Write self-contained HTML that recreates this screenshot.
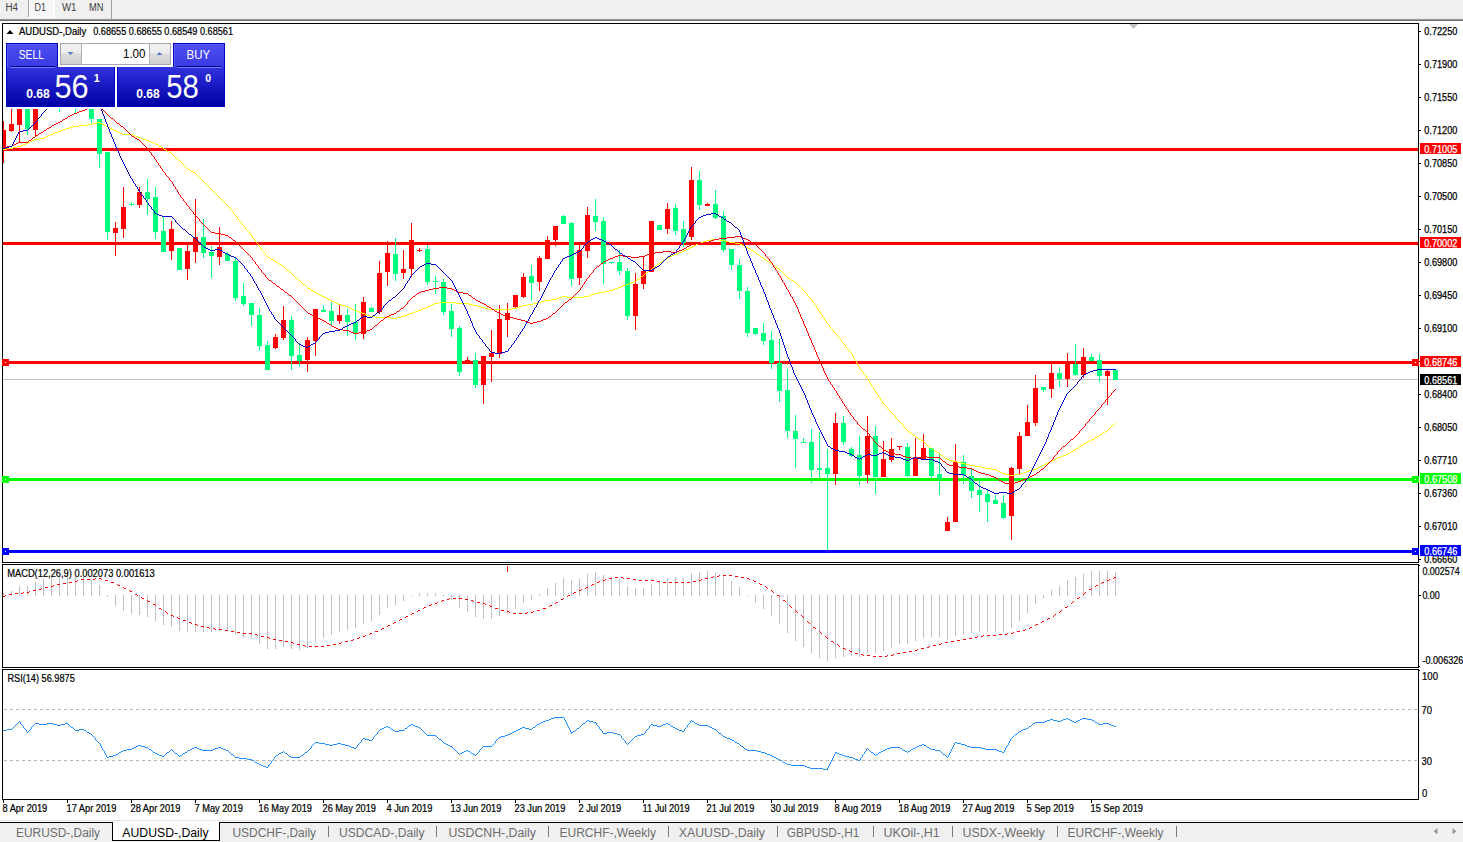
<!DOCTYPE html>
<html><head><meta charset="utf-8"><title>AUDUSD Daily</title>
<style>html,body{margin:0;padding:0;background:#fff;width:1463px;height:842px;overflow:hidden}svg{display:block}text{font-family:"Liberation Sans",sans-serif}</style>
</head><body>
<svg width="1463" height="842" viewBox="0 0 1463 842" font-family="Liberation Sans, sans-serif"><rect x="0" y="0" width="1463" height="19" fill="#f0f0f0"/>
<rect x="0" y="18" width="1463" height="1" fill="#e6e6e6"/>
<rect x="0" y="19" width="1463" height="1" fill="#9a9a9a"/>
<rect x="0" y="20" width="1463" height="1" fill="#6e6e6e"/>
<defs><pattern id="chk" x="0" y="0" width="2" height="2" patternUnits="userSpaceOnUse"><rect width="2" height="2" fill="#f0f0f0"/><rect width="1" height="1" fill="#ffffff"/><rect x="1" y="1" width="1" height="1" fill="#ffffff"/></pattern></defs>
<rect x="29" y="0" width="25" height="17" fill="url(#chk)"/>
<rect x="54" y="0" width="1" height="18" fill="#ffffff"/>
<rect x="28" y="17" width="27" height="1" fill="#ffffff"/>
<rect x="28" y="0" width="1" height="17" fill="#a0a0a0"/>
<rect x="111" y="0" width="1" height="19" fill="#a0a0a0"/>
<text x="5.5" y="11" font-size="10" fill="#404040" textLength="12.5" lengthAdjust="spacingAndGlyphs" >H4</text>
<text x="34.5" y="11" font-size="10" fill="#404040" textLength="11.5" lengthAdjust="spacingAndGlyphs" >D1</text>
<text x="62" y="11" font-size="10" fill="#404040" textLength="14.5" lengthAdjust="spacingAndGlyphs" >W1</text>
<text x="89" y="11" font-size="10" fill="#404040" textLength="14.5" lengthAdjust="spacingAndGlyphs" >MN</text>
<defs><clipPath id="cm"><rect x="3" y="24" width="1415" height="538"/></clipPath><clipPath id="cmacd"><rect x="3" y="565" width="1415" height="102"/></clipPath><clipPath id="crsi"><rect x="3" y="670" width="1415" height="129"/></clipPath></defs>
<rect x="2" y="23" width="1417" height="1" fill="#000"/>
<rect x="2" y="562" width="1417" height="1" fill="#000"/>
<rect x="2" y="23" width="1" height="540" fill="#000"/>
<rect x="1418" y="23" width="1" height="540" fill="#000"/>
<rect x="2" y="564" width="1417" height="1" fill="#000"/>
<rect x="2" y="667" width="1417" height="1" fill="#000"/>
<rect x="2" y="564" width="1" height="104" fill="#000"/>
<rect x="1418" y="564" width="1" height="104" fill="#000"/>
<rect x="2" y="669" width="1417" height="1" fill="#000"/>
<rect x="2" y="799" width="1417" height="1" fill="#000"/>
<rect x="2" y="669" width="1" height="131" fill="#000"/>
<rect x="1418" y="669" width="1" height="131" fill="#000"/>
<g clip-path="url(#cm)" shape-rendering="crispEdges">
<rect x="3" y="148" width="1415" height="3" fill="#ff0000"/>
<rect x="3" y="242" width="1415" height="3" fill="#ff0000"/>
<rect x="3" y="361" width="1415" height="3" fill="#ff0000"/>
<rect x="3" y="478" width="1415" height="3" fill="#00ff00"/>
<rect x="3" y="550" width="1415" height="3" fill="#0000ff"/>
<rect x="3" y="379" width="1415" height="1" fill="#c0c0c0"/>
<rect x="3" y="121" width="1" height="42" fill="#ff0000"/>
<rect x="1" y="130" width="5" height="21" fill="#ff0000"/>
<rect x="11" y="100" width="1" height="32" fill="#ff0000"/>
<rect x="9" y="124" width="5" height="7" fill="#ff0000"/>
<rect x="19" y="100" width="1" height="42" fill="#ff0000"/>
<rect x="17" y="100" width="5" height="25" fill="#ff0000"/>
<rect x="27" y="100" width="1" height="35" fill="#00ff7f"/>
<rect x="25" y="100" width="5" height="29" fill="#00ff7f"/>
<rect x="35" y="100" width="1" height="36" fill="#ff0000"/>
<rect x="33" y="100" width="5" height="30" fill="#ff0000"/>
<rect x="43" y="90" width="1" height="14" fill="#00ff7f"/>
<rect x="41" y="95" width="5" height="5" fill="#00ff7f"/>
<rect x="51" y="90" width="1" height="14" fill="#ff0000"/>
<rect x="49" y="92" width="5" height="8" fill="#ff0000"/>
<rect x="59" y="95" width="1" height="17" fill="#00ff7f"/>
<rect x="57" y="100" width="5" height="5" fill="#00ff7f"/>
<rect x="67" y="95" width="1" height="11" fill="#ff0000"/>
<rect x="65" y="98" width="5" height="6" fill="#ff0000"/>
<rect x="75" y="95" width="1" height="19" fill="#00ff7f"/>
<rect x="73" y="100" width="5" height="6" fill="#00ff7f"/>
<rect x="83" y="90" width="1" height="15" fill="#ff0000"/>
<rect x="81" y="95" width="5" height="5" fill="#ff0000"/>
<rect x="91" y="95" width="1" height="28" fill="#00ff7f"/>
<rect x="89" y="100" width="5" height="19" fill="#00ff7f"/>
<rect x="99" y="119" width="1" height="49" fill="#00ff7f"/>
<rect x="97" y="119" width="5" height="35" fill="#00ff7f"/>
<rect x="107" y="152" width="1" height="88" fill="#00ff7f"/>
<rect x="105" y="152" width="5" height="80" fill="#00ff7f"/>
<rect x="115" y="222" width="1" height="34" fill="#ff0000"/>
<rect x="113" y="228" width="5" height="5" fill="#ff0000"/>
<rect x="123" y="187" width="1" height="51" fill="#ff0000"/>
<rect x="121" y="207" width="5" height="22" fill="#ff0000"/>
<rect x="131" y="202" width="1" height="4" fill="#00ff7f"/>
<rect x="129" y="204" width="5" height="1" fill="#00ff7f"/>
<rect x="139" y="187" width="1" height="21" fill="#ff0000"/>
<rect x="137" y="192" width="5" height="13" fill="#ff0000"/>
<rect x="147" y="179" width="1" height="36" fill="#00ff7f"/>
<rect x="145" y="192" width="5" height="7" fill="#00ff7f"/>
<rect x="155" y="187" width="1" height="52" fill="#00ff7f"/>
<rect x="153" y="197" width="5" height="35" fill="#00ff7f"/>
<rect x="163" y="216" width="1" height="36" fill="#00ff7f"/>
<rect x="161" y="231" width="5" height="21" fill="#00ff7f"/>
<rect x="171" y="221" width="1" height="39" fill="#ff0000"/>
<rect x="169" y="229" width="5" height="22" fill="#ff0000"/>
<rect x="179" y="248" width="1" height="22" fill="#00ff7f"/>
<rect x="177" y="248" width="5" height="22" fill="#00ff7f"/>
<rect x="187" y="245" width="1" height="35" fill="#ff0000"/>
<rect x="185" y="251" width="5" height="18" fill="#ff0000"/>
<rect x="195" y="199" width="1" height="64" fill="#ff0000"/>
<rect x="193" y="237" width="5" height="15" fill="#ff0000"/>
<rect x="203" y="219" width="1" height="39" fill="#00ff7f"/>
<rect x="201" y="237" width="5" height="16" fill="#00ff7f"/>
<rect x="211" y="246" width="1" height="32" fill="#00ff7f"/>
<rect x="209" y="252" width="5" height="4" fill="#00ff7f"/>
<rect x="219" y="227" width="1" height="38" fill="#ff0000"/>
<rect x="217" y="247" width="5" height="10" fill="#ff0000"/>
<rect x="227" y="252" width="1" height="9" fill="#00ff7f"/>
<rect x="225" y="254" width="5" height="7" fill="#00ff7f"/>
<rect x="235" y="258" width="1" height="43" fill="#00ff7f"/>
<rect x="233" y="261" width="5" height="37" fill="#00ff7f"/>
<rect x="243" y="283" width="1" height="23" fill="#00ff7f"/>
<rect x="241" y="296" width="5" height="8" fill="#00ff7f"/>
<rect x="251" y="303" width="1" height="23" fill="#00ff7f"/>
<rect x="249" y="303" width="5" height="12" fill="#00ff7f"/>
<rect x="259" y="308" width="1" height="43" fill="#00ff7f"/>
<rect x="257" y="315" width="5" height="31" fill="#00ff7f"/>
<rect x="267" y="341" width="1" height="29" fill="#00ff7f"/>
<rect x="265" y="345" width="5" height="25" fill="#00ff7f"/>
<rect x="275" y="334" width="1" height="15" fill="#ff0000"/>
<rect x="273" y="337" width="5" height="11" fill="#ff0000"/>
<rect x="283" y="306" width="1" height="34" fill="#ff0000"/>
<rect x="281" y="320" width="5" height="18" fill="#ff0000"/>
<rect x="291" y="316" width="1" height="54" fill="#00ff7f"/>
<rect x="289" y="320" width="5" height="36" fill="#00ff7f"/>
<rect x="299" y="343" width="1" height="24" fill="#00ff7f"/>
<rect x="297" y="355" width="5" height="6" fill="#00ff7f"/>
<rect x="307" y="337" width="1" height="35" fill="#ff0000"/>
<rect x="305" y="340" width="5" height="20" fill="#ff0000"/>
<rect x="315" y="309" width="1" height="47" fill="#ff0000"/>
<rect x="313" y="309" width="5" height="32" fill="#ff0000"/>
<rect x="323" y="305" width="1" height="7" fill="#00ff7f"/>
<rect x="321" y="310" width="5" height="2" fill="#00ff7f"/>
<rect x="331" y="302" width="1" height="24" fill="#00ff7f"/>
<rect x="329" y="311" width="5" height="10" fill="#00ff7f"/>
<rect x="339" y="305" width="1" height="19" fill="#ff0000"/>
<rect x="337" y="315" width="5" height="6" fill="#ff0000"/>
<rect x="347" y="309" width="1" height="27" fill="#00ff7f"/>
<rect x="345" y="315" width="5" height="7" fill="#00ff7f"/>
<rect x="355" y="304" width="1" height="36" fill="#00ff7f"/>
<rect x="353" y="322" width="5" height="12" fill="#00ff7f"/>
<rect x="363" y="297" width="1" height="42" fill="#ff0000"/>
<rect x="361" y="302" width="5" height="32" fill="#ff0000"/>
<rect x="371" y="307" width="1" height="5" fill="#00ff7f"/>
<rect x="369" y="308" width="5" height="4" fill="#00ff7f"/>
<rect x="379" y="261" width="1" height="53" fill="#ff0000"/>
<rect x="377" y="273" width="5" height="39" fill="#ff0000"/>
<rect x="387" y="241" width="1" height="45" fill="#ff0000"/>
<rect x="385" y="253" width="5" height="19" fill="#ff0000"/>
<rect x="395" y="238" width="1" height="43" fill="#00ff7f"/>
<rect x="393" y="254" width="5" height="20" fill="#00ff7f"/>
<rect x="403" y="250" width="1" height="29" fill="#ff0000"/>
<rect x="401" y="269" width="5" height="4" fill="#ff0000"/>
<rect x="411" y="223" width="1" height="54" fill="#ff0000"/>
<rect x="409" y="240" width="5" height="29" fill="#ff0000"/>
<rect x="419" y="248" width="1" height="4" fill="#ff0000"/>
<rect x="417" y="250" width="5" height="1" fill="#ff0000"/>
<rect x="427" y="245" width="1" height="40" fill="#00ff7f"/>
<rect x="425" y="249" width="5" height="33" fill="#00ff7f"/>
<rect x="435" y="276" width="1" height="18" fill="#00ff7f"/>
<rect x="433" y="281" width="5" height="1" fill="#00ff7f"/>
<rect x="443" y="279" width="1" height="36" fill="#00ff7f"/>
<rect x="441" y="282" width="5" height="30" fill="#00ff7f"/>
<rect x="451" y="304" width="1" height="33" fill="#00ff7f"/>
<rect x="449" y="311" width="5" height="18" fill="#00ff7f"/>
<rect x="459" y="326" width="1" height="50" fill="#00ff7f"/>
<rect x="457" y="328" width="5" height="44" fill="#00ff7f"/>
<rect x="467" y="357" width="1" height="4" fill="#ff0000"/>
<rect x="465" y="360" width="5" height="1" fill="#ff0000"/>
<rect x="475" y="353" width="1" height="35" fill="#00ff7f"/>
<rect x="473" y="360" width="5" height="25" fill="#00ff7f"/>
<rect x="483" y="356" width="1" height="48" fill="#ff0000"/>
<rect x="481" y="356" width="5" height="29" fill="#ff0000"/>
<rect x="491" y="330" width="1" height="52" fill="#ff0000"/>
<rect x="489" y="353" width="5" height="4" fill="#ff0000"/>
<rect x="499" y="305" width="1" height="53" fill="#ff0000"/>
<rect x="497" y="319" width="5" height="35" fill="#ff0000"/>
<rect x="507" y="303" width="1" height="34" fill="#ff0000"/>
<rect x="505" y="313" width="5" height="7" fill="#ff0000"/>
<rect x="515" y="295" width="1" height="13" fill="#ff0000"/>
<rect x="513" y="295" width="5" height="12" fill="#ff0000"/>
<rect x="523" y="273" width="1" height="25" fill="#ff0000"/>
<rect x="521" y="277" width="5" height="20" fill="#ff0000"/>
<rect x="531" y="265" width="1" height="36" fill="#00ff7f"/>
<rect x="529" y="276" width="5" height="7" fill="#00ff7f"/>
<rect x="539" y="256" width="1" height="35" fill="#ff0000"/>
<rect x="537" y="258" width="5" height="24" fill="#ff0000"/>
<rect x="547" y="236" width="1" height="23" fill="#ff0000"/>
<rect x="545" y="240" width="5" height="19" fill="#ff0000"/>
<rect x="555" y="226" width="1" height="20" fill="#ff0000"/>
<rect x="553" y="226" width="5" height="14" fill="#ff0000"/>
<rect x="563" y="215" width="1" height="9" fill="#00ff7f"/>
<rect x="561" y="216" width="5" height="8" fill="#00ff7f"/>
<rect x="571" y="222" width="1" height="64" fill="#00ff7f"/>
<rect x="569" y="223" width="5" height="56" fill="#00ff7f"/>
<rect x="579" y="245" width="1" height="40" fill="#ff0000"/>
<rect x="577" y="250" width="5" height="28" fill="#ff0000"/>
<rect x="587" y="207" width="1" height="51" fill="#ff0000"/>
<rect x="585" y="215" width="5" height="36" fill="#ff0000"/>
<rect x="595" y="199" width="1" height="32" fill="#00ff7f"/>
<rect x="593" y="216" width="5" height="6" fill="#00ff7f"/>
<rect x="603" y="217" width="1" height="67" fill="#00ff7f"/>
<rect x="601" y="221" width="5" height="43" fill="#00ff7f"/>
<rect x="611" y="262" width="1" height="2" fill="#00ff7f"/>
<rect x="609" y="262" width="5" height="1" fill="#00ff7f"/>
<rect x="619" y="250" width="1" height="25" fill="#00ff7f"/>
<rect x="617" y="262" width="5" height="9" fill="#00ff7f"/>
<rect x="627" y="268" width="1" height="52" fill="#00ff7f"/>
<rect x="625" y="271" width="5" height="45" fill="#00ff7f"/>
<rect x="635" y="273" width="1" height="57" fill="#ff0000"/>
<rect x="633" y="284" width="5" height="32" fill="#ff0000"/>
<rect x="643" y="256" width="1" height="33" fill="#ff0000"/>
<rect x="641" y="271" width="5" height="13" fill="#ff0000"/>
<rect x="651" y="221" width="1" height="51" fill="#ff0000"/>
<rect x="649" y="221" width="5" height="51" fill="#ff0000"/>
<rect x="659" y="225" width="1" height="5" fill="#00ff7f"/>
<rect x="657" y="225" width="5" height="5" fill="#00ff7f"/>
<rect x="667" y="203" width="1" height="31" fill="#ff0000"/>
<rect x="665" y="209" width="5" height="20" fill="#ff0000"/>
<rect x="675" y="204" width="1" height="31" fill="#00ff7f"/>
<rect x="673" y="208" width="5" height="23" fill="#00ff7f"/>
<rect x="683" y="221" width="1" height="26" fill="#00ff7f"/>
<rect x="681" y="229" width="5" height="14" fill="#00ff7f"/>
<rect x="691" y="167" width="1" height="73" fill="#ff0000"/>
<rect x="689" y="180" width="5" height="57" fill="#ff0000"/>
<rect x="699" y="171" width="1" height="39" fill="#00ff7f"/>
<rect x="697" y="180" width="5" height="25" fill="#00ff7f"/>
<rect x="707" y="203" width="1" height="3" fill="#ff0000"/>
<rect x="705" y="204" width="5" height="2" fill="#ff0000"/>
<rect x="715" y="190" width="1" height="29" fill="#00ff7f"/>
<rect x="713" y="204" width="5" height="14" fill="#00ff7f"/>
<rect x="723" y="211" width="1" height="41" fill="#00ff7f"/>
<rect x="721" y="216" width="5" height="34" fill="#00ff7f"/>
<rect x="731" y="249" width="1" height="21" fill="#00ff7f"/>
<rect x="729" y="249" width="5" height="16" fill="#00ff7f"/>
<rect x="739" y="259" width="1" height="40" fill="#00ff7f"/>
<rect x="737" y="265" width="5" height="26" fill="#00ff7f"/>
<rect x="747" y="287" width="1" height="50" fill="#00ff7f"/>
<rect x="745" y="291" width="5" height="42" fill="#00ff7f"/>
<rect x="755" y="328" width="1" height="7" fill="#00ff7f"/>
<rect x="753" y="328" width="5" height="6" fill="#00ff7f"/>
<rect x="763" y="323" width="1" height="22" fill="#00ff7f"/>
<rect x="761" y="333" width="5" height="8" fill="#00ff7f"/>
<rect x="771" y="331" width="1" height="38" fill="#00ff7f"/>
<rect x="769" y="340" width="5" height="23" fill="#00ff7f"/>
<rect x="779" y="339" width="1" height="63" fill="#00ff7f"/>
<rect x="777" y="363" width="5" height="28" fill="#00ff7f"/>
<rect x="787" y="369" width="1" height="69" fill="#00ff7f"/>
<rect x="785" y="390" width="5" height="41" fill="#00ff7f"/>
<rect x="795" y="415" width="1" height="53" fill="#00ff7f"/>
<rect x="793" y="431" width="5" height="8" fill="#00ff7f"/>
<rect x="803" y="438" width="1" height="4" fill="#00ff7f"/>
<rect x="801" y="442" width="5" height="1" fill="#00ff7f"/>
<rect x="811" y="429" width="1" height="54" fill="#00ff7f"/>
<rect x="809" y="442" width="5" height="28" fill="#00ff7f"/>
<rect x="819" y="432" width="1" height="46" fill="#00ff7f"/>
<rect x="817" y="468" width="5" height="2" fill="#00ff7f"/>
<rect x="827" y="449" width="1" height="101" fill="#00ff7f"/>
<rect x="825" y="468" width="5" height="6" fill="#00ff7f"/>
<rect x="835" y="413" width="1" height="72" fill="#ff0000"/>
<rect x="833" y="423" width="5" height="51" fill="#ff0000"/>
<rect x="843" y="416" width="1" height="29" fill="#00ff7f"/>
<rect x="841" y="423" width="5" height="19" fill="#00ff7f"/>
<rect x="851" y="447" width="1" height="10" fill="#00ff7f"/>
<rect x="849" y="449" width="5" height="7" fill="#00ff7f"/>
<rect x="859" y="436" width="1" height="49" fill="#00ff7f"/>
<rect x="857" y="455" width="5" height="21" fill="#00ff7f"/>
<rect x="867" y="416" width="1" height="67" fill="#ff0000"/>
<rect x="865" y="436" width="5" height="39" fill="#ff0000"/>
<rect x="875" y="426" width="1" height="68" fill="#00ff7f"/>
<rect x="873" y="436" width="5" height="41" fill="#00ff7f"/>
<rect x="883" y="441" width="1" height="36" fill="#ff0000"/>
<rect x="881" y="459" width="5" height="18" fill="#ff0000"/>
<rect x="891" y="438" width="1" height="24" fill="#ff0000"/>
<rect x="889" y="449" width="5" height="11" fill="#ff0000"/>
<rect x="899" y="446" width="1" height="4" fill="#ff0000"/>
<rect x="897" y="446" width="5" height="1" fill="#ff0000"/>
<rect x="907" y="443" width="1" height="34" fill="#00ff7f"/>
<rect x="905" y="447" width="5" height="29" fill="#00ff7f"/>
<rect x="915" y="438" width="1" height="38" fill="#ff0000"/>
<rect x="913" y="457" width="5" height="19" fill="#ff0000"/>
<rect x="923" y="434" width="1" height="26" fill="#ff0000"/>
<rect x="921" y="448" width="5" height="11" fill="#ff0000"/>
<rect x="931" y="448" width="1" height="30" fill="#00ff7f"/>
<rect x="929" y="448" width="5" height="28" fill="#00ff7f"/>
<rect x="939" y="454" width="1" height="41" fill="#00ff7f"/>
<rect x="937" y="474" width="5" height="5" fill="#00ff7f"/>
<rect x="947" y="517" width="1" height="14" fill="#ff0000"/>
<rect x="945" y="522" width="5" height="9" fill="#ff0000"/>
<rect x="955" y="444" width="1" height="78" fill="#ff0000"/>
<rect x="953" y="462" width="5" height="60" fill="#ff0000"/>
<rect x="963" y="455" width="1" height="29" fill="#00ff7f"/>
<rect x="961" y="462" width="5" height="13" fill="#00ff7f"/>
<rect x="971" y="469" width="1" height="29" fill="#00ff7f"/>
<rect x="969" y="476" width="5" height="15" fill="#00ff7f"/>
<rect x="979" y="478" width="1" height="34" fill="#00ff7f"/>
<rect x="977" y="490" width="5" height="5" fill="#00ff7f"/>
<rect x="987" y="489" width="1" height="33" fill="#00ff7f"/>
<rect x="985" y="494" width="5" height="8" fill="#00ff7f"/>
<rect x="995" y="495" width="1" height="9" fill="#00ff7f"/>
<rect x="993" y="500" width="5" height="4" fill="#00ff7f"/>
<rect x="1003" y="495" width="1" height="24" fill="#00ff7f"/>
<rect x="1001" y="503" width="5" height="15" fill="#00ff7f"/>
<rect x="1011" y="467" width="1" height="73" fill="#ff0000"/>
<rect x="1009" y="468" width="5" height="48" fill="#ff0000"/>
<rect x="1019" y="432" width="1" height="42" fill="#ff0000"/>
<rect x="1017" y="436" width="5" height="33" fill="#ff0000"/>
<rect x="1027" y="405" width="1" height="31" fill="#ff0000"/>
<rect x="1025" y="422" width="5" height="14" fill="#ff0000"/>
<rect x="1035" y="375" width="1" height="51" fill="#ff0000"/>
<rect x="1033" y="388" width="5" height="35" fill="#ff0000"/>
<rect x="1043" y="387" width="1" height="5" fill="#00ff7f"/>
<rect x="1041" y="387" width="5" height="3" fill="#00ff7f"/>
<rect x="1051" y="364" width="1" height="34" fill="#ff0000"/>
<rect x="1049" y="373" width="5" height="16" fill="#ff0000"/>
<rect x="1059" y="367" width="1" height="20" fill="#00ff7f"/>
<rect x="1057" y="373" width="5" height="6" fill="#00ff7f"/>
<rect x="1067" y="353" width="1" height="34" fill="#ff0000"/>
<rect x="1065" y="364" width="5" height="15" fill="#ff0000"/>
<rect x="1075" y="344" width="1" height="32" fill="#00ff7f"/>
<rect x="1073" y="364" width="5" height="11" fill="#00ff7f"/>
<rect x="1083" y="348" width="1" height="30" fill="#ff0000"/>
<rect x="1081" y="357" width="5" height="18" fill="#ff0000"/>
<rect x="1091" y="354" width="1" height="7" fill="#00ff7f"/>
<rect x="1089" y="357" width="5" height="4" fill="#00ff7f"/>
<rect x="1099" y="354" width="1" height="28" fill="#00ff7f"/>
<rect x="1097" y="360" width="5" height="16" fill="#00ff7f"/>
<rect x="1107" y="369" width="1" height="36" fill="#ff0000"/>
<rect x="1105" y="371" width="5" height="5" fill="#ff0000"/>
<rect x="1115" y="370" width="1" height="10" fill="#00ff7f"/>
<rect x="1113" y="370" width="5" height="10" fill="#00ff7f"/>
<path d="M97,122h3v1h-3zM93,123h4v1h-4zM100,123h2v1h-2zM87,124h6v1h-6zM102,124h2v1h-2zM79,125h8v1h-8zM104,125h2v1h-2zM73,126h6v1h-6zM106,126h2v1h-2zM69,127h4v1h-4zM108,127h2v1h-2zM66,128h3v1h-3zM110,128h2v1h-2zM63,129h3v1h-3zM112,129h2v1h-2zM61,130h2v1h-2zM114,130h2v1h-2zM58,131h3v1h-3zM116,131h2v1h-2zM55,132h3v1h-3zM118,132h2v1h-2zM53,133h2v1h-2zM120,133h2v1h-2zM50,134h3v1h-3zM122,134h11v1h-11zM48,135h2v1h-2zM133,135h2v1h-2zM46,136h2v1h-2zM135,136h3v1h-3zM44,137h2v1h-2zM138,137h3v1h-3zM39,138h5v1h-5zM141,138h2v1h-2zM34,139h5v1h-5zM143,139h3v1h-3zM32,140h2v1h-2zM146,140h3v1h-3zM30,141h2v1h-2zM149,141h2v1h-2zM28,142h2v1h-2zM151,142h3v1h-3zM26,143h2v1h-2zM154,143h2v1h-2zM23,144h3v1h-3zM156,144h2v1h-2zM21,145h2v1h-2zM158,145h1v1h-1zM17,146h4v1h-4zM159,146h2v1h-2zM13,147h4v1h-4zM161,147h2v1h-2zM7,148h6v1h-6zM163,148h1v1h-1zM3,149h4v1h-4zM164,149h2v1h-2zM166,150h1v1h-1zM167,151h2v1h-2zM169,152h2v1h-2zM171,153h1v1h-1zM172,154h1v1h-1zM173,155h1v1h-1zM174,156h1v1h-1zM175,157h2v1h-2zM177,158h1v1h-1zM178,159h1v1h-1zM179,160h1v1h-1zM180,161h1v1h-1zM181,162h1v1h-1zM182,163h1v1h-1zM183,164h1v1h-1zM184,165h1v1h-1zM185,166h1v1h-1zM186,167h1v1h-1zM187,168h1v1h-1zM188,169h2v1h-2zM190,170h1v1h-1zM191,171h2v1h-2zM193,172h2v1h-2zM195,173h1v1h-1zM196,174h1v1h-1zM197,175h1v1h-1zM198,176h1v1h-1zM199,177h1v1h-1zM200,178h1v1h-1zM201,179h1v1h-1zM202,180h1v1h-1zM203,181h1v1h-1zM204,182h1v1h-1zM205,183h1v1h-1zM206,184h1v1h-1zM207,185h1v1h-1zM208,186h1v1h-1zM209,187h1v1h-1zM210,188h1v1h-1zM211,189h1v1h-1zM212,190h1v1h-1zM213,191h1v1h-1zM214,192h1v1h-1zM215,193h1v1h-1zM216,194h1v1h-1zM217,195h1v1h-1zM218,196h1v1h-1zM219,197h1v1h-1zM220,198h1v1h-1zM221,199h1v1h-1zM222,200h1v1h-1zM223,201h1v1h-1zM224,202h1v1h-1zM225,203h1v1h-1zM226,204h1v1h-1zM227,205h1v1h-1zM228,206h1v1h-1zM229,207h1v1h-1zM229,208h1v1h-1zM230,209h1v1h-1zM231,210h1v1h-1zM232,211h1v1h-1zM233,212h1v1h-1zM233,213h1v1h-1zM234,214h1v1h-1zM235,215h1v1h-1zM236,216h1v1h-1zM237,217h1v1h-1zM237,218h1v1h-1zM238,219h1v1h-1zM239,220h1v1h-1zM240,221h1v1h-1zM241,222h1v1h-1zM241,223h1v1h-1zM242,224h1v1h-1zM243,225h1v1h-1zM244,226h1v1h-1zM245,227h1v1h-1zM245,228h1v1h-1zM246,229h1v1h-1zM247,230h1v1h-1zM248,231h1v1h-1zM249,232h1v1h-1zM249,233h1v1h-1zM250,234h1v1h-1zM251,235h1v1h-1zM252,236h1v1h-1zM252,237h1v1h-1zM253,238h1v1h-1zM254,239h1v1h-1zM711,239h8v1h-8zM255,240h1v1h-1zM706,240h5v1h-5zM719,240h6v1h-6zM255,241h1v1h-1zM703,241h3v1h-3zM725,241h4v1h-4zM256,242h1v1h-1zM701,242h2v1h-2zM729,242h6v1h-6zM257,243h1v1h-1zM698,243h3v1h-3zM735,243h5v1h-5zM258,244h1v1h-1zM696,244h2v1h-2zM740,244h2v1h-2zM258,245h1v1h-1zM694,245h2v1h-2zM742,245h2v1h-2zM259,246h1v1h-1zM692,246h2v1h-2zM744,246h2v1h-2zM260,247h1v1h-1zM690,247h2v1h-2zM746,247h2v1h-2zM261,248h1v1h-1zM688,248h2v1h-2zM748,248h2v1h-2zM261,249h1v1h-1zM686,249h2v1h-2zM750,249h1v1h-1zM262,250h1v1h-1zM684,250h2v1h-2zM751,250h2v1h-2zM263,251h1v1h-1zM682,251h2v1h-2zM753,251h2v1h-2zM264,252h1v1h-1zM679,252h3v1h-3zM755,252h1v1h-1zM265,253h1v1h-1zM677,253h2v1h-2zM756,253h1v1h-1zM265,254h1v1h-1zM674,254h3v1h-3zM757,254h2v1h-2zM266,255h1v1h-1zM672,255h2v1h-2zM759,255h1v1h-1zM267,256h1v1h-1zM670,256h2v1h-2zM760,256h1v1h-1zM268,257h2v1h-2zM668,257h2v1h-2zM761,257h2v1h-2zM270,258h1v1h-1zM667,258h1v1h-1zM763,258h1v1h-1zM271,259h2v1h-2zM665,259h2v1h-2zM764,259h2v1h-2zM273,260h2v1h-2zM663,260h2v1h-2zM766,260h1v1h-1zM275,261h1v1h-1zM662,261h1v1h-1zM767,261h2v1h-2zM276,262h2v1h-2zM660,262h2v1h-2zM769,262h2v1h-2zM278,263h1v1h-1zM659,263h1v1h-1zM771,263h1v1h-1zM279,264h2v1h-2zM657,264h2v1h-2zM772,264h1v1h-1zM281,265h2v1h-2zM656,265h1v1h-1zM773,265h2v1h-2zM283,266h1v1h-1zM655,266h1v1h-1zM775,266h1v1h-1zM284,267h1v1h-1zM653,267h2v1h-2zM776,267h1v1h-1zM285,268h1v1h-1zM652,268h1v1h-1zM777,268h2v1h-2zM286,269h1v1h-1zM651,269h1v1h-1zM779,269h1v1h-1zM287,270h2v1h-2zM649,270h2v1h-2zM780,270h1v1h-1zM289,271h1v1h-1zM648,271h1v1h-1zM781,271h1v1h-1zM290,272h1v1h-1zM647,272h1v1h-1zM782,272h1v1h-1zM291,273h1v1h-1zM645,273h2v1h-2zM783,273h1v1h-1zM292,274h1v1h-1zM644,274h1v1h-1zM784,274h1v1h-1zM293,275h1v1h-1zM643,275h1v1h-1zM785,275h1v1h-1zM294,276h1v1h-1zM641,276h2v1h-2zM786,276h1v1h-1zM295,277h2v1h-2zM640,277h1v1h-1zM787,277h1v1h-1zM297,278h1v1h-1zM639,278h1v1h-1zM788,278h2v1h-2zM298,279h1v1h-1zM637,279h2v1h-2zM790,279h1v1h-1zM299,280h1v1h-1zM636,280h1v1h-1zM791,280h2v1h-2zM300,281h1v1h-1zM634,281h2v1h-2zM793,281h2v1h-2zM301,282h1v1h-1zM631,282h3v1h-3zM795,282h1v1h-1zM302,283h1v1h-1zM629,283h2v1h-2zM796,283h1v1h-1zM303,284h2v1h-2zM626,284h3v1h-3zM797,284h1v1h-1zM305,285h1v1h-1zM623,285h3v1h-3zM798,285h1v1h-1zM306,286h1v1h-1zM621,286h2v1h-2zM799,286h1v1h-1zM307,287h1v1h-1zM618,287h3v1h-3zM800,287h1v1h-1zM308,288h2v1h-2zM615,288h3v1h-3zM801,288h1v1h-1zM310,289h1v1h-1zM613,289h2v1h-2zM802,289h1v1h-1zM311,290h2v1h-2zM609,290h4v1h-4zM803,290h1v1h-1zM313,291h2v1h-2zM605,291h4v1h-4zM804,291h1v1h-1zM315,292h1v1h-1zM599,292h6v1h-6zM805,292h1v1h-1zM316,293h2v1h-2zM594,293h5v1h-5zM806,293h1v1h-1zM318,294h2v1h-2zM591,294h3v1h-3zM807,294h1v1h-1zM320,295h2v1h-2zM589,295h2v1h-2zM807,295h1v1h-1zM322,296h2v1h-2zM562,296h5v1h-5zM583,296h6v1h-6zM808,296h1v1h-1zM324,297h2v1h-2zM559,297h3v1h-3zM567,297h16v1h-16zM809,297h1v1h-1zM326,298h2v1h-2zM557,298h2v1h-2zM810,298h1v1h-1zM328,299h2v1h-2zM551,299h6v1h-6zM811,299h1v1h-1zM330,300h2v1h-2zM545,300h6v1h-6zM812,300h1v1h-1zM332,301h2v1h-2zM541,301h4v1h-4zM812,301h1v1h-1zM334,302h2v1h-2zM439,302h16v1h-16zM537,302h4v1h-4zM813,302h1v1h-1zM336,303h2v1h-2zM434,303h5v1h-5zM455,303h14v1h-14zM533,303h4v1h-4zM814,303h1v1h-1zM338,304h3v1h-3zM432,304h2v1h-2zM469,304h4v1h-4zM527,304h6v1h-6zM814,304h1v1h-1zM341,305h4v1h-4zM430,305h2v1h-2zM473,305h4v1h-4zM522,305h5v1h-5zM815,305h1v1h-1zM345,306h3v1h-3zM428,306h2v1h-2zM477,306h4v1h-4zM519,306h3v1h-3zM816,306h1v1h-1zM348,307h2v1h-2zM426,307h2v1h-2zM481,307h4v1h-4zM517,307h2v1h-2zM816,307h1v1h-1zM350,308h2v1h-2zM423,308h3v1h-3zM485,308h4v1h-4zM511,308h6v1h-6zM817,308h1v1h-1zM352,309h2v1h-2zM421,309h2v1h-2zM489,309h22v1h-22zM818,309h1v1h-1zM354,310h3v1h-3zM418,310h3v1h-3zM818,310h1v1h-1zM357,311h2v1h-2zM415,311h3v1h-3zM819,311h1v1h-1zM359,312h3v1h-3zM413,312h2v1h-2zM820,312h1v1h-1zM362,313h3v1h-3zM410,313h3v1h-3zM820,313h1v1h-1zM365,314h2v1h-2zM407,314h3v1h-3zM821,314h1v1h-1zM367,315h3v1h-3zM405,315h2v1h-2zM822,315h1v1h-1zM370,316h5v1h-5zM401,316h4v1h-4zM822,316h1v1h-1zM375,317h16v1h-16zM397,317h4v1h-4zM823,317h1v1h-1zM391,318h6v1h-6zM824,318h1v1h-1zM824,319h1v1h-1zM825,320h1v1h-1zM826,321h1v1h-1zM826,322h1v1h-1zM827,323h1v1h-1zM828,324h1v1h-1zM829,325h1v1h-1zM829,326h1v1h-1zM830,327h1v1h-1zM831,328h1v1h-1zM832,329h1v1h-1zM833,330h1v1h-1zM833,331h1v1h-1zM834,332h1v1h-1zM835,333h1v1h-1zM836,334h1v1h-1zM837,335h1v1h-1zM837,336h1v1h-1zM838,337h1v1h-1zM839,338h1v1h-1zM840,339h1v1h-1zM841,340h1v1h-1zM841,341h1v1h-1zM842,342h1v1h-1zM843,343h1v1h-1zM844,344h1v1h-1zM845,345h1v1h-1zM845,346h1v1h-1zM846,347h1v1h-1zM847,348h1v1h-1zM848,349h1v1h-1zM849,350h1v1h-1zM849,351h1v1h-1zM850,352h1v1h-1zM851,353h1v1h-1zM852,354h1v1h-1zM852,355h1v1h-1zM853,356h1v1h-1zM853,357h1v1h-1zM854,358h1v1h-1zM854,359h1v1h-1zM855,360h1v1h-1zM856,361h1v1h-1zM856,362h1v1h-1zM857,363h1v1h-1zM857,364h1v1h-1zM858,365h1v1h-1zM858,366h1v1h-1zM859,367h1v1h-1zM860,368h1v1h-1zM860,369h1v1h-1zM861,370h1v1h-1zM862,371h1v1h-1zM863,372h1v1h-1zM863,373h1v1h-1zM864,374h1v1h-1zM865,375h1v1h-1zM866,376h1v1h-1zM866,377h1v1h-1zM867,378h1v1h-1zM868,379h1v1h-1zM868,380h1v1h-1zM869,381h1v1h-1zM869,382h1v1h-1zM870,383h1v1h-1zM871,384h1v1h-1zM871,385h1v1h-1zM872,386h1v1h-1zM873,387h1v1h-1zM873,388h1v1h-1zM874,389h1v1h-1zM874,390h1v1h-1zM875,391h1v1h-1zM876,392h1v1h-1zM876,393h1v1h-1zM877,394h1v1h-1zM878,395h1v1h-1zM878,396h1v1h-1zM879,397h1v1h-1zM880,398h1v1h-1zM880,399h1v1h-1zM881,400h1v1h-1zM882,401h1v1h-1zM882,402h1v1h-1zM883,403h1v1h-1zM884,404h1v1h-1zM885,405h1v1h-1zM886,406h1v1h-1zM887,407h1v1h-1zM887,408h1v1h-1zM888,409h1v1h-1zM889,410h1v1h-1zM890,411h1v1h-1zM891,412h1v1h-1zM892,413h1v1h-1zM893,414h1v1h-1zM894,415h1v1h-1zM895,416h1v1h-1zM895,417h1v1h-1zM896,418h1v1h-1zM897,419h1v1h-1zM898,420h1v1h-1zM899,421h1v1h-1zM900,422h1v1h-1zM901,423h1v1h-1zM1115,423h1v1h-1zM902,424h1v1h-1zM1114,424h1v1h-1zM903,425h1v1h-1zM1113,425h1v1h-1zM903,426h1v1h-1zM1111,426h2v1h-2zM904,427h1v1h-1zM1110,427h1v1h-1zM905,428h1v1h-1zM1109,428h1v1h-1zM906,429h1v1h-1zM1108,429h1v1h-1zM907,430h1v1h-1zM1107,430h1v1h-1zM908,431h1v1h-1zM1105,431h2v1h-2zM909,432h2v1h-2zM1103,432h2v1h-2zM911,433h1v1h-1zM1102,433h1v1h-1zM912,434h1v1h-1zM1100,434h2v1h-2zM913,435h2v1h-2zM1099,435h1v1h-1zM915,436h1v1h-1zM1097,436h2v1h-2zM916,437h2v1h-2zM1095,437h2v1h-2zM918,438h1v1h-1zM1094,438h1v1h-1zM919,439h2v1h-2zM1092,439h2v1h-2zM921,440h2v1h-2zM1090,440h2v1h-2zM923,441h1v1h-1zM1088,441h2v1h-2zM924,442h1v1h-1zM1086,442h2v1h-2zM925,443h1v1h-1zM1084,443h2v1h-2zM926,444h1v1h-1zM1083,444h1v1h-1zM927,445h2v1h-2zM1081,445h2v1h-2zM929,446h1v1h-1zM1079,446h2v1h-2zM930,447h1v1h-1zM1078,447h1v1h-1zM931,448h1v1h-1zM1076,448h2v1h-2zM932,449h2v1h-2zM1075,449h1v1h-1zM934,450h1v1h-1zM1073,450h2v1h-2zM935,451h2v1h-2zM1071,451h2v1h-2zM937,452h2v1h-2zM1070,452h1v1h-1zM939,453h1v1h-1zM1068,453h2v1h-2zM940,454h1v1h-1zM1066,454h2v1h-2zM941,455h2v1h-2zM1063,455h3v1h-3zM943,456h1v1h-1zM1061,456h2v1h-2zM944,457h1v1h-1zM1058,457h3v1h-3zM945,458h2v1h-2zM1056,458h2v1h-2zM947,459h2v1h-2zM1054,459h2v1h-2zM949,460h4v1h-4zM1052,460h2v1h-2zM953,461h4v1h-4zM1050,461h2v1h-2zM957,462h4v1h-4zM1048,462h2v1h-2zM961,463h4v1h-4zM1046,463h2v1h-2zM965,464h4v1h-4zM1044,464h2v1h-2zM969,465h6v1h-6zM1042,465h2v1h-2zM975,466h6v1h-6zM1040,466h2v1h-2zM981,467h4v1h-4zM1038,467h2v1h-2zM985,468h6v1h-6zM1036,468h2v1h-2zM991,469h5v1h-5zM1033,469h3v1h-3zM996,470h2v1h-2zM1029,470h4v1h-4zM998,471h2v1h-2zM1026,471h3v1h-3zM1000,472h2v1h-2zM1023,472h3v1h-3zM1002,473h3v1h-3zM1021,473h2v1h-2zM1005,474h4v1h-4zM1015,474h6v1h-6zM1009,475h6v1h-6z" fill="#ffff00"/>
<path d="M95,106h5v1h-5zM90,107h5v1h-5zM100,107h1v1h-1zM87,108h3v1h-3zM101,108h1v1h-1zM85,109h2v1h-2zM102,109h1v1h-1zM82,110h3v1h-3zM103,110h1v1h-1zM79,111h3v1h-3zM104,111h1v1h-1zM77,112h2v1h-2zM105,112h1v1h-1zM74,113h3v1h-3zM106,113h1v1h-1zM72,114h2v1h-2zM107,114h1v1h-1zM70,115h2v1h-2zM108,115h1v1h-1zM68,116h2v1h-2zM109,116h1v1h-1zM67,117h1v1h-1zM110,117h1v1h-1zM65,118h2v1h-2zM111,118h2v1h-2zM63,119h2v1h-2zM113,119h1v1h-1zM62,120h1v1h-1zM114,120h1v1h-1zM60,121h2v1h-2zM115,121h1v1h-1zM58,122h2v1h-2zM116,122h1v1h-1zM56,123h2v1h-2zM117,123h2v1h-2zM54,124h2v1h-2zM119,124h1v1h-1zM52,125h2v1h-2zM120,125h1v1h-1zM51,126h1v1h-1zM121,126h2v1h-2zM49,127h2v1h-2zM123,127h1v1h-1zM47,128h2v1h-2zM124,128h1v1h-1zM46,129h1v1h-1zM125,129h1v1h-1zM44,130h2v1h-2zM126,130h1v1h-1zM43,131h1v1h-1zM127,131h1v1h-1zM41,132h2v1h-2zM128,132h1v1h-1zM39,133h2v1h-2zM129,133h1v1h-1zM38,134h1v1h-1zM130,134h1v1h-1zM36,135h2v1h-2zM131,135h1v1h-1zM35,136h1v1h-1zM132,136h2v1h-2zM33,137h2v1h-2zM134,137h1v1h-1zM32,138h1v1h-1zM135,138h2v1h-2zM31,139h1v1h-1zM137,139h2v1h-2zM29,140h2v1h-2zM139,140h1v1h-1zM28,141h1v1h-1zM140,141h1v1h-1zM18,142h10v1h-10zM141,142h1v1h-1zM16,143h2v1h-2zM142,143h1v1h-1zM14,144h2v1h-2zM143,144h1v1h-1zM12,145h2v1h-2zM144,145h1v1h-1zM7,146h5v1h-5zM145,146h1v1h-1zM3,147h4v1h-4zM146,147h1v1h-1zM147,148h1v1h-1zM148,149h1v1h-1zM148,150h1v1h-1zM149,151h1v1h-1zM150,152h1v1h-1zM151,153h1v1h-1zM151,154h1v1h-1zM152,155h1v1h-1zM153,156h1v1h-1zM154,157h1v1h-1zM154,158h1v1h-1zM155,159h1v1h-1zM156,160h1v1h-1zM156,161h1v1h-1zM157,162h1v1h-1zM158,163h1v1h-1zM158,164h1v1h-1zM159,165h1v1h-1zM160,166h1v1h-1zM160,167h1v1h-1zM161,168h1v1h-1zM162,169h1v1h-1zM162,170h1v1h-1zM163,171h1v1h-1zM164,172h1v1h-1zM165,173h1v1h-1zM165,174h1v1h-1zM166,175h1v1h-1zM167,176h1v1h-1zM168,177h1v1h-1zM169,178h1v1h-1zM169,179h1v1h-1zM170,180h1v1h-1zM171,181h1v1h-1zM172,182h1v1h-1zM172,183h1v1h-1zM173,184h1v1h-1zM173,185h1v1h-1zM174,186h1v1h-1zM175,187h1v1h-1zM175,188h1v1h-1zM176,189h1v1h-1zM177,190h1v1h-1zM177,191h1v1h-1zM178,192h1v1h-1zM178,193h1v1h-1zM179,194h1v1h-1zM180,195h1v1h-1zM180,196h1v1h-1zM181,197h1v1h-1zM182,198h1v1h-1zM183,199h1v1h-1zM183,200h1v1h-1zM184,201h1v1h-1zM185,202h1v1h-1zM186,203h1v1h-1zM186,204h1v1h-1zM187,205h1v1h-1zM188,206h1v1h-1zM189,207h1v1h-1zM189,208h1v1h-1zM190,209h1v1h-1zM191,210h1v1h-1zM192,211h1v1h-1zM193,212h1v1h-1zM193,213h1v1h-1zM194,214h1v1h-1zM195,215h1v1h-1zM196,216h1v1h-1zM197,217h1v1h-1zM198,218h1v1h-1zM199,219h1v1h-1zM199,220h1v1h-1zM200,221h1v1h-1zM201,222h1v1h-1zM202,223h1v1h-1zM203,224h1v1h-1zM204,225h1v1h-1zM205,226h1v1h-1zM206,227h1v1h-1zM207,228h1v1h-1zM208,229h1v1h-1zM209,230h1v1h-1zM210,231h1v1h-1zM211,232h4v1h-4zM215,233h6v1h-6zM221,234h4v1h-4zM225,235h3v1h-3zM228,236h1v1h-1zM735,236h6v1h-6zM229,237h2v1h-2zM727,237h8v1h-8zM741,237h2v1h-2zM231,238h1v1h-1zM719,238h8v1h-8zM743,238h3v1h-3zM232,239h1v1h-1zM714,239h5v1h-5zM746,239h2v1h-2zM233,240h2v1h-2zM711,240h3v1h-3zM748,240h2v1h-2zM235,241h1v1h-1zM709,241h2v1h-2zM750,241h1v1h-1zM236,242h1v1h-1zM703,242h6v1h-6zM751,242h2v1h-2zM237,243h1v1h-1zM695,243h8v1h-8zM753,243h2v1h-2zM238,244h1v1h-1zM691,244h4v1h-4zM755,244h1v1h-1zM239,245h1v1h-1zM689,245h2v1h-2zM756,245h1v1h-1zM240,246h1v1h-1zM687,246h2v1h-2zM757,246h1v1h-1zM241,247h1v1h-1zM686,247h1v1h-1zM758,247h1v1h-1zM242,248h1v1h-1zM684,248h2v1h-2zM759,248h1v1h-1zM243,249h1v1h-1zM682,249h2v1h-2zM760,249h1v1h-1zM244,250h1v1h-1zM679,250h3v1h-3zM761,250h1v1h-1zM245,251h1v1h-1zM663,251h8v1h-8zM677,251h2v1h-2zM762,251h1v1h-1zM246,252h1v1h-1zM655,252h8v1h-8zM671,252h6v1h-6zM763,252h1v1h-1zM247,253h1v1h-1zM650,253h5v1h-5zM764,253h1v1h-1zM248,254h1v1h-1zM647,254h3v1h-3zM765,254h1v1h-1zM249,255h1v1h-1zM618,255h5v1h-5zM645,255h2v1h-2zM765,255h1v1h-1zM250,256h1v1h-1zM615,256h3v1h-3zM623,256h8v1h-8zM639,256h6v1h-6zM766,256h1v1h-1zM251,257h1v1h-1zM613,257h2v1h-2zM631,257h8v1h-8zM767,257h1v1h-1zM252,258h1v1h-1zM610,258h3v1h-3zM768,258h1v1h-1zM252,259h1v1h-1zM608,259h2v1h-2zM769,259h1v1h-1zM253,260h1v1h-1zM606,260h2v1h-2zM769,260h1v1h-1zM254,261h1v1h-1zM604,261h2v1h-2zM770,261h1v1h-1zM255,262h1v1h-1zM603,262h1v1h-1zM771,262h1v1h-1zM255,263h1v1h-1zM601,263h2v1h-2zM772,263h1v1h-1zM256,264h1v1h-1zM600,264h1v1h-1zM772,264h1v1h-1zM257,265h1v1h-1zM599,265h1v1h-1zM773,265h1v1h-1zM258,266h1v1h-1zM597,266h2v1h-2zM773,266h1v1h-1zM258,267h1v1h-1zM596,267h1v1h-1zM774,267h1v1h-1zM259,268h1v1h-1zM595,268h1v1h-1zM775,268h1v1h-1zM260,269h1v1h-1zM594,269h1v1h-1zM775,269h1v1h-1zM261,270h1v1h-1zM593,270h1v1h-1zM776,270h1v1h-1zM261,271h1v1h-1zM593,271h1v1h-1zM777,271h1v1h-1zM262,272h1v1h-1zM592,272h1v1h-1zM777,272h1v1h-1zM263,273h1v1h-1zM591,273h1v1h-1zM778,273h1v1h-1zM264,274h1v1h-1zM590,274h1v1h-1zM778,274h1v1h-1zM265,275h1v1h-1zM589,275h1v1h-1zM779,275h1v1h-1zM265,276h1v1h-1zM589,276h1v1h-1zM780,276h1v1h-1zM266,277h1v1h-1zM588,277h1v1h-1zM780,277h1v1h-1zM267,278h1v1h-1zM587,278h1v1h-1zM781,278h1v1h-1zM268,279h1v1h-1zM586,279h1v1h-1zM781,279h1v1h-1zM269,280h2v1h-2zM586,280h1v1h-1zM782,280h1v1h-1zM271,281h1v1h-1zM585,281h1v1h-1zM782,281h1v1h-1zM272,282h1v1h-1zM584,282h1v1h-1zM783,282h1v1h-1zM273,283h2v1h-2zM584,283h1v1h-1zM784,283h1v1h-1zM275,284h1v1h-1zM583,284h1v1h-1zM784,284h1v1h-1zM276,285h1v1h-1zM582,285h1v1h-1zM785,285h1v1h-1zM277,286h2v1h-2zM582,286h1v1h-1zM785,286h1v1h-1zM279,287h1v1h-1zM439,287h8v1h-8zM581,287h1v1h-1zM786,287h1v1h-1zM280,288h1v1h-1zM433,288h6v1h-6zM447,288h5v1h-5zM580,288h1v1h-1zM786,288h1v1h-1zM281,289h2v1h-2zM429,289h4v1h-4zM452,289h2v1h-2zM580,289h1v1h-1zM787,289h1v1h-1zM283,290h1v1h-1zM425,290h4v1h-4zM454,290h2v1h-2zM579,290h1v1h-1zM788,290h1v1h-1zM284,291h1v1h-1zM421,291h4v1h-4zM456,291h2v1h-2zM578,291h1v1h-1zM788,291h1v1h-1zM285,292h2v1h-2zM419,292h2v1h-2zM458,292h5v1h-5zM577,292h1v1h-1zM789,292h1v1h-1zM287,293h1v1h-1zM417,293h2v1h-2zM463,293h5v1h-5zM576,293h1v1h-1zM789,293h1v1h-1zM288,294h1v1h-1zM416,294h1v1h-1zM468,294h1v1h-1zM575,294h1v1h-1zM790,294h1v1h-1zM289,295h2v1h-2zM415,295h1v1h-1zM469,295h2v1h-2zM574,295h1v1h-1zM790,295h1v1h-1zM291,296h1v1h-1zM413,296h2v1h-2zM471,296h1v1h-1zM573,296h1v1h-1zM791,296h1v1h-1zM292,297h1v1h-1zM412,297h1v1h-1zM472,297h1v1h-1zM572,297h1v1h-1zM792,297h1v1h-1zM293,298h1v1h-1zM411,298h1v1h-1zM473,298h2v1h-2zM571,298h1v1h-1zM792,298h1v1h-1zM294,299h1v1h-1zM410,299h1v1h-1zM475,299h1v1h-1zM569,299h2v1h-2zM793,299h1v1h-1zM295,300h1v1h-1zM409,300h1v1h-1zM476,300h2v1h-2zM568,300h1v1h-1zM793,300h1v1h-1zM296,301h1v1h-1zM408,301h1v1h-1zM478,301h2v1h-2zM567,301h1v1h-1zM794,301h1v1h-1zM297,302h1v1h-1zM407,302h1v1h-1zM480,302h2v1h-2zM565,302h2v1h-2zM794,302h1v1h-1zM298,303h1v1h-1zM407,303h1v1h-1zM482,303h2v1h-2zM564,303h1v1h-1zM795,303h1v1h-1zM299,304h1v1h-1zM406,304h1v1h-1zM484,304h2v1h-2zM563,304h1v1h-1zM795,304h1v1h-1zM300,305h1v1h-1zM405,305h1v1h-1zM486,305h1v1h-1zM562,305h1v1h-1zM796,305h1v1h-1zM301,306h1v1h-1zM404,306h1v1h-1zM487,306h2v1h-2zM561,306h1v1h-1zM796,306h1v1h-1zM302,307h1v1h-1zM403,307h1v1h-1zM489,307h2v1h-2zM560,307h1v1h-1zM797,307h1v1h-1zM303,308h1v1h-1zM401,308h2v1h-2zM491,308h1v1h-1zM559,308h1v1h-1zM797,308h1v1h-1zM304,309h1v1h-1zM400,309h1v1h-1zM492,309h2v1h-2zM558,309h1v1h-1zM798,309h1v1h-1zM305,310h1v1h-1zM399,310h1v1h-1zM494,310h1v1h-1zM557,310h1v1h-1zM798,310h1v1h-1zM306,311h1v1h-1zM397,311h2v1h-2zM495,311h2v1h-2zM556,311h1v1h-1zM798,311h1v1h-1zM307,312h1v1h-1zM396,312h1v1h-1zM497,312h2v1h-2zM555,312h1v1h-1zM799,312h1v1h-1zM308,313h2v1h-2zM394,313h2v1h-2zM499,313h2v1h-2zM553,313h2v1h-2zM799,313h1v1h-1zM310,314h2v1h-2zM391,314h3v1h-3zM501,314h2v1h-2zM552,314h1v1h-1zM800,314h1v1h-1zM312,315h2v1h-2zM389,315h2v1h-2zM503,315h3v1h-3zM551,315h1v1h-1zM800,315h1v1h-1zM314,316h2v1h-2zM387,316h2v1h-2zM506,316h3v1h-3zM549,316h2v1h-2zM800,316h1v1h-1zM316,317h2v1h-2zM385,317h2v1h-2zM509,317h4v1h-4zM548,317h1v1h-1zM801,317h1v1h-1zM318,318h2v1h-2zM384,318h1v1h-1zM513,318h4v1h-4zM546,318h2v1h-2zM801,318h1v1h-1zM320,319h2v1h-2zM383,319h1v1h-1zM517,319h4v1h-4zM543,319h3v1h-3zM802,319h1v1h-1zM322,320h2v1h-2zM381,320h2v1h-2zM521,320h4v1h-4zM541,320h2v1h-2zM802,320h1v1h-1zM324,321h2v1h-2zM380,321h1v1h-1zM525,321h2v1h-2zM537,321h4v1h-4zM803,321h1v1h-1zM326,322h1v1h-1zM379,322h1v1h-1zM527,322h3v1h-3zM533,322h4v1h-4zM803,322h1v1h-1zM327,323h2v1h-2zM378,323h1v1h-1zM530,323h3v1h-3zM803,323h1v1h-1zM329,324h2v1h-2zM377,324h1v1h-1zM804,324h1v1h-1zM331,325h1v1h-1zM375,325h2v1h-2zM804,325h1v1h-1zM332,326h2v1h-2zM374,326h1v1h-1zM805,326h1v1h-1zM334,327h2v1h-2zM373,327h1v1h-1zM805,327h1v1h-1zM336,328h2v1h-2zM372,328h1v1h-1zM806,328h1v1h-1zM338,329h5v1h-5zM370,329h2v1h-2zM806,329h1v1h-1zM343,330h6v1h-6zM367,330h3v1h-3zM806,330h1v1h-1zM349,331h2v1h-2zM365,331h2v1h-2zM807,331h1v1h-1zM351,332h3v1h-3zM359,332h6v1h-6zM807,332h1v1h-1zM354,333h5v1h-5zM808,333h1v1h-1zM808,334h1v1h-1zM808,335h1v1h-1zM809,336h1v1h-1zM809,337h1v1h-1zM810,338h1v1h-1zM810,339h1v1h-1zM811,340h1v1h-1zM811,341h1v1h-1zM811,342h1v1h-1zM812,343h1v1h-1zM812,344h1v1h-1zM813,345h1v1h-1zM813,346h1v1h-1zM814,347h1v1h-1zM814,348h1v1h-1zM814,349h1v1h-1zM815,350h1v1h-1zM815,351h1v1h-1zM816,352h1v1h-1zM816,353h1v1h-1zM816,354h1v1h-1zM817,355h1v1h-1zM817,356h1v1h-1zM818,357h1v1h-1zM818,358h1v1h-1zM819,359h1v1h-1zM819,360h1v1h-1zM819,361h1v1h-1zM820,362h1v1h-1zM820,363h1v1h-1zM821,364h1v1h-1zM821,365h1v1h-1zM822,366h1v1h-1zM822,367h1v1h-1zM823,368h1v1h-1zM823,369h1v1h-1zM823,370h1v1h-1zM824,371h1v1h-1zM824,372h1v1h-1zM825,373h1v1h-1zM825,374h1v1h-1zM826,375h1v1h-1zM826,376h1v1h-1zM827,377h1v1h-1zM827,378h1v1h-1zM828,379h1v1h-1zM828,380h1v1h-1zM829,381h1v1h-1zM830,382h1v1h-1zM830,383h1v1h-1zM831,384h1v1h-1zM832,385h1v1h-1zM832,386h1v1h-1zM833,387h1v1h-1zM834,388h1v1h-1zM834,389h1v1h-1zM1115,389h1v1h-1zM835,390h1v1h-1zM1114,390h1v1h-1zM836,391h1v1h-1zM1113,391h1v1h-1zM836,392h1v1h-1zM1112,392h1v1h-1zM837,393h1v1h-1zM1111,393h1v1h-1zM837,394h1v1h-1zM1111,394h1v1h-1zM838,395h1v1h-1zM1110,395h1v1h-1zM839,396h1v1h-1zM1109,396h1v1h-1zM839,397h1v1h-1zM1108,397h1v1h-1zM840,398h1v1h-1zM1107,398h1v1h-1zM841,399h1v1h-1zM1106,399h1v1h-1zM841,400h1v1h-1zM1105,400h1v1h-1zM842,401h1v1h-1zM1105,401h1v1h-1zM842,402h1v1h-1zM1104,402h1v1h-1zM843,403h1v1h-1zM1103,403h1v1h-1zM844,404h1v1h-1zM1102,404h1v1h-1zM844,405h1v1h-1zM1101,405h1v1h-1zM845,406h1v1h-1zM1101,406h1v1h-1zM846,407h1v1h-1zM1100,407h1v1h-1zM846,408h1v1h-1zM1099,408h1v1h-1zM847,409h1v1h-1zM1098,409h1v1h-1zM848,410h1v1h-1zM1097,410h1v1h-1zM848,411h1v1h-1zM1096,411h1v1h-1zM849,412h1v1h-1zM1095,412h1v1h-1zM850,413h1v1h-1zM1095,413h1v1h-1zM850,414h1v1h-1zM1094,414h1v1h-1zM851,415h1v1h-1zM1093,415h1v1h-1zM852,416h1v1h-1zM1092,416h1v1h-1zM853,417h1v1h-1zM1091,417h1v1h-1zM853,418h1v1h-1zM1090,418h1v1h-1zM854,419h1v1h-1zM1089,419h1v1h-1zM855,420h1v1h-1zM1089,420h1v1h-1zM856,421h1v1h-1zM1088,421h1v1h-1zM857,422h1v1h-1zM1087,422h1v1h-1zM857,423h1v1h-1zM1086,423h1v1h-1zM858,424h1v1h-1zM1085,424h1v1h-1zM859,425h1v1h-1zM1085,425h1v1h-1zM860,426h1v1h-1zM1084,426h1v1h-1zM861,427h1v1h-1zM1083,427h1v1h-1zM862,428h1v1h-1zM1082,428h1v1h-1zM863,429h2v1h-2zM1081,429h1v1h-1zM865,430h1v1h-1zM1080,430h1v1h-1zM866,431h1v1h-1zM1079,431h1v1h-1zM867,432h1v1h-1zM1079,432h1v1h-1zM868,433h1v1h-1zM1078,433h1v1h-1zM869,434h1v1h-1zM1077,434h1v1h-1zM869,435h1v1h-1zM1076,435h1v1h-1zM870,436h1v1h-1zM1075,436h1v1h-1zM871,437h1v1h-1zM1074,437h1v1h-1zM872,438h1v1h-1zM1073,438h1v1h-1zM873,439h1v1h-1zM1071,439h2v1h-2zM873,440h1v1h-1zM1070,440h1v1h-1zM874,441h1v1h-1zM1069,441h1v1h-1zM875,442h1v1h-1zM1068,442h1v1h-1zM876,443h1v1h-1zM1067,443h1v1h-1zM877,444h1v1h-1zM1066,444h1v1h-1zM878,445h1v1h-1zM1065,445h1v1h-1zM879,446h2v1h-2zM1063,446h2v1h-2zM881,447h1v1h-1zM1062,447h1v1h-1zM882,448h1v1h-1zM1061,448h1v1h-1zM883,449h1v1h-1zM1060,449h1v1h-1zM884,450h2v1h-2zM1059,450h1v1h-1zM886,451h2v1h-2zM1058,451h1v1h-1zM888,452h2v1h-2zM1057,452h1v1h-1zM890,453h5v1h-5zM1057,453h1v1h-1zM895,454h6v1h-6zM1056,454h1v1h-1zM901,455h2v1h-2zM1055,455h1v1h-1zM903,456h3v1h-3zM921,456h6v1h-6zM1054,456h1v1h-1zM906,457h5v1h-5zM917,457h4v1h-4zM927,457h13v1h-13zM1053,457h1v1h-1zM911,458h6v1h-6zM940,458h1v1h-1zM1053,458h1v1h-1zM941,459h1v1h-1zM1052,459h1v1h-1zM942,460h1v1h-1zM1051,460h1v1h-1zM943,461h2v1h-2zM1050,461h1v1h-1zM945,462h1v1h-1zM1049,462h1v1h-1zM946,463h1v1h-1zM1048,463h1v1h-1zM947,464h2v1h-2zM1047,464h1v1h-1zM949,465h4v1h-4zM1046,465h1v1h-1zM953,466h6v1h-6zM1045,466h1v1h-1zM959,467h8v1h-8zM1044,467h1v1h-1zM967,468h5v1h-5zM1043,468h1v1h-1zM972,469h2v1h-2zM1041,469h2v1h-2zM974,470h2v1h-2zM1040,470h1v1h-1zM976,471h2v1h-2zM1039,471h1v1h-1zM978,472h3v1h-3zM1037,472h2v1h-2zM981,473h4v1h-4zM1036,473h1v1h-1zM985,474h4v1h-4zM1034,474h2v1h-2zM989,475h2v1h-2zM1032,475h2v1h-2zM991,476h3v1h-3zM1030,476h2v1h-2zM994,477h2v1h-2zM1028,477h2v1h-2zM996,478h2v1h-2zM1026,478h2v1h-2zM998,479h1v1h-1zM1023,479h3v1h-3zM999,480h2v1h-2zM1021,480h2v1h-2zM1001,481h2v1h-2zM1018,481h3v1h-3zM1003,482h2v1h-2zM1015,482h3v1h-3zM1005,483h4v1h-4zM1013,483h2v1h-2zM1009,484h4v1h-4z" fill="#ff0000"/>
<path d="M82,89h2v1h-2zM80,90h2v1h-2zM84,90h2v1h-2zM67,91h2v1h-2zM78,91h2v1h-2zM86,91h1v1h-1zM65,92h2v1h-2zM69,92h4v1h-4zM76,92h2v1h-2zM87,92h2v1h-2zM64,93h1v1h-1zM73,93h3v1h-3zM89,93h2v1h-2zM63,94h1v1h-1zM91,94h1v1h-1zM61,95h2v1h-2zM92,95h1v1h-1zM60,96h1v1h-1zM93,96h1v1h-1zM59,97h1v1h-1zM93,97h1v1h-1zM57,98h2v1h-2zM94,98h1v1h-1zM56,99h1v1h-1zM95,99h1v1h-1zM55,100h1v1h-1zM96,100h1v1h-1zM53,101h2v1h-2zM97,101h1v1h-1zM52,102h1v1h-1zM97,102h1v1h-1zM51,103h1v1h-1zM98,103h1v1h-1zM50,104h1v1h-1zM99,104h1v1h-1zM49,105h1v1h-1zM99,105h1v1h-1zM48,106h1v1h-1zM100,106h1v1h-1zM47,107h1v1h-1zM100,107h1v1h-1zM47,108h1v1h-1zM101,108h1v1h-1zM46,109h1v1h-1zM101,109h1v1h-1zM45,110h1v1h-1zM101,110h1v1h-1zM44,111h1v1h-1zM102,111h1v1h-1zM43,112h1v1h-1zM102,112h1v1h-1zM42,113h1v1h-1zM102,113h1v1h-1zM41,114h1v1h-1zM103,114h1v1h-1zM41,115h1v1h-1zM103,115h1v1h-1zM40,116h1v1h-1zM104,116h1v1h-1zM39,117h1v1h-1zM104,117h1v1h-1zM38,118h1v1h-1zM104,118h1v1h-1zM37,119h1v1h-1zM105,119h1v1h-1zM37,120h1v1h-1zM105,120h1v1h-1zM36,121h1v1h-1zM105,121h1v1h-1zM35,122h1v1h-1zM106,122h1v1h-1zM34,123h1v1h-1zM106,123h1v1h-1zM33,124h1v1h-1zM107,124h1v1h-1zM32,125h1v1h-1zM107,125h1v1h-1zM31,126h1v1h-1zM107,126h1v1h-1zM30,127h1v1h-1zM108,127h1v1h-1zM29,128h1v1h-1zM108,128h1v1h-1zM28,129h1v1h-1zM109,129h1v1h-1zM23,130h5v1h-5zM109,130h1v1h-1zM19,131h4v1h-4zM109,131h1v1h-1zM18,132h1v1h-1zM110,132h1v1h-1zM18,133h1v1h-1zM110,133h1v1h-1zM17,134h1v1h-1zM111,134h1v1h-1zM17,135h1v1h-1zM111,135h1v1h-1zM16,136h1v1h-1zM111,136h1v1h-1zM16,137h1v1h-1zM112,137h1v1h-1zM15,138h1v1h-1zM112,138h1v1h-1zM15,139h1v1h-1zM113,139h1v1h-1zM14,140h1v1h-1zM113,140h1v1h-1zM14,141h1v1h-1zM113,141h1v1h-1zM13,142h1v1h-1zM114,142h1v1h-1zM13,143h1v1h-1zM114,143h1v1h-1zM12,144h1v1h-1zM115,144h1v1h-1zM12,145h1v1h-1zM115,145h1v1h-1zM9,146h3v1h-3zM115,146h1v1h-1zM5,147h4v1h-4zM116,147h1v1h-1zM3,148h2v1h-2zM116,148h1v1h-1zM117,149h1v1h-1zM117,150h1v1h-1zM118,151h1v1h-1zM118,152h1v1h-1zM119,153h1v1h-1zM119,154h1v1h-1zM119,155h1v1h-1zM120,156h1v1h-1zM120,157h1v1h-1zM121,158h1v1h-1zM121,159h1v1h-1zM122,160h1v1h-1zM122,161h1v1h-1zM123,162h1v1h-1zM123,163h1v1h-1zM124,164h1v1h-1zM124,165h1v1h-1zM125,166h1v1h-1zM125,167h1v1h-1zM126,168h1v1h-1zM126,169h1v1h-1zM127,170h1v1h-1zM127,171h1v1h-1zM128,172h1v1h-1zM128,173h1v1h-1zM129,174h1v1h-1zM129,175h1v1h-1zM130,176h1v1h-1zM130,177h1v1h-1zM131,178h1v1h-1zM132,179h1v1h-1zM132,180h1v1h-1zM133,181h1v1h-1zM133,182h1v1h-1zM134,183h1v1h-1zM135,184h1v1h-1zM135,185h1v1h-1zM136,186h1v1h-1zM137,187h1v1h-1zM137,188h1v1h-1zM138,189h1v1h-1zM138,190h1v1h-1zM139,191h1v1h-1zM140,192h1v1h-1zM140,193h1v1h-1zM141,194h1v1h-1zM142,195h1v1h-1zM143,196h1v1h-1zM143,197h1v1h-1zM144,198h1v1h-1zM145,199h1v1h-1zM146,200h1v1h-1zM146,201h1v1h-1zM147,202h1v1h-1zM148,203h1v1h-1zM148,204h1v1h-1zM149,205h1v1h-1zM150,206h1v1h-1zM151,207h1v1h-1zM151,208h1v1h-1zM152,209h1v1h-1zM153,210h1v1h-1zM154,211h1v1h-1zM154,212h1v1h-1zM155,213h2v1h-2zM711,213h5v1h-5zM157,214h2v1h-2zM706,214h5v1h-5zM716,214h2v1h-2zM159,215h3v1h-3zM703,215h3v1h-3zM718,215h1v1h-1zM162,216h10v1h-10zM701,216h2v1h-2zM719,216h2v1h-2zM172,217h1v1h-1zM699,217h2v1h-2zM721,217h2v1h-2zM173,218h1v1h-1zM698,218h1v1h-1zM723,218h1v1h-1zM174,219h1v1h-1zM697,219h1v1h-1zM724,219h2v1h-2zM175,220h1v1h-1zM696,220h1v1h-1zM726,220h1v1h-1zM175,221h1v1h-1zM695,221h1v1h-1zM727,221h2v1h-2zM176,222h1v1h-1zM695,222h1v1h-1zM729,222h2v1h-2zM177,223h1v1h-1zM694,223h1v1h-1zM731,223h1v1h-1zM178,224h1v1h-1zM693,224h1v1h-1zM732,224h1v1h-1zM179,225h1v1h-1zM692,225h1v1h-1zM733,225h1v1h-1zM180,226h1v1h-1zM691,226h1v1h-1zM734,226h1v1h-1zM181,227h1v1h-1zM690,227h1v1h-1zM735,227h2v1h-2zM182,228h1v1h-1zM690,228h1v1h-1zM737,228h1v1h-1zM183,229h2v1h-2zM689,229h1v1h-1zM738,229h1v1h-1zM185,230h1v1h-1zM689,230h1v1h-1zM739,230h1v1h-1zM186,231h1v1h-1zM688,231h1v1h-1zM739,231h1v1h-1zM187,232h1v1h-1zM688,232h1v1h-1zM740,232h1v1h-1zM188,233h1v1h-1zM687,233h1v1h-1zM740,233h1v1h-1zM189,234h2v1h-2zM687,234h1v1h-1zM740,234h1v1h-1zM191,235h1v1h-1zM686,235h1v1h-1zM741,235h1v1h-1zM192,236h1v1h-1zM686,236h1v1h-1zM741,236h1v1h-1zM193,237h2v1h-2zM595,237h2v1h-2zM685,237h1v1h-1zM742,237h1v1h-1zM195,238h1v1h-1zM593,238h2v1h-2zM597,238h2v1h-2zM685,238h1v1h-1zM742,238h1v1h-1zM196,239h1v1h-1zM591,239h2v1h-2zM599,239h3v1h-3zM684,239h1v1h-1zM742,239h1v1h-1zM197,240h1v1h-1zM590,240h1v1h-1zM602,240h2v1h-2zM684,240h1v1h-1zM743,240h1v1h-1zM198,241h1v1h-1zM588,241h2v1h-2zM604,241h2v1h-2zM683,241h1v1h-1zM743,241h1v1h-1zM199,242h1v1h-1zM587,242h1v1h-1zM606,242h1v1h-1zM682,242h1v1h-1zM743,242h1v1h-1zM200,243h1v1h-1zM586,243h1v1h-1zM607,243h2v1h-2zM682,243h1v1h-1zM744,243h1v1h-1zM201,244h1v1h-1zM585,244h1v1h-1zM609,244h2v1h-2zM681,244h1v1h-1zM744,244h1v1h-1zM202,245h1v1h-1zM584,245h1v1h-1zM611,245h1v1h-1zM680,245h1v1h-1zM744,245h1v1h-1zM203,246h1v1h-1zM583,246h1v1h-1zM612,246h1v1h-1zM679,246h1v1h-1zM745,246h1v1h-1zM204,247h2v1h-2zM583,247h1v1h-1zM613,247h1v1h-1zM679,247h1v1h-1zM745,247h1v1h-1zM206,248h2v1h-2zM582,248h1v1h-1zM614,248h1v1h-1zM678,248h1v1h-1zM746,248h1v1h-1zM208,249h2v1h-2zM215,249h5v1h-5zM581,249h1v1h-1zM615,249h2v1h-2zM677,249h1v1h-1zM746,249h1v1h-1zM210,250h5v1h-5zM220,250h2v1h-2zM580,250h1v1h-1zM617,250h1v1h-1zM676,250h1v1h-1zM746,250h1v1h-1zM222,251h1v1h-1zM578,251h2v1h-2zM618,251h1v1h-1zM676,251h1v1h-1zM747,251h1v1h-1zM223,252h2v1h-2zM576,252h2v1h-2zM619,252h1v1h-1zM675,252h1v1h-1zM747,252h1v1h-1zM225,253h2v1h-2zM574,253h2v1h-2zM620,253h2v1h-2zM673,253h2v1h-2zM747,253h1v1h-1zM227,254h2v1h-2zM572,254h2v1h-2zM622,254h1v1h-1zM671,254h2v1h-2zM748,254h1v1h-1zM229,255h2v1h-2zM570,255h2v1h-2zM623,255h2v1h-2zM670,255h1v1h-1zM748,255h1v1h-1zM231,256h3v1h-3zM567,256h3v1h-3zM625,256h2v1h-2zM668,256h2v1h-2zM749,256h1v1h-1zM234,257h2v1h-2zM565,257h2v1h-2zM627,257h1v1h-1zM667,257h1v1h-1zM749,257h1v1h-1zM236,258h1v1h-1zM563,258h2v1h-2zM628,258h2v1h-2zM666,258h1v1h-1zM750,258h1v1h-1zM237,259h1v1h-1zM562,259h1v1h-1zM630,259h1v1h-1zM665,259h1v1h-1zM750,259h1v1h-1zM238,260h1v1h-1zM562,260h1v1h-1zM631,260h2v1h-2zM664,260h1v1h-1zM750,260h1v1h-1zM239,261h1v1h-1zM561,261h1v1h-1zM633,261h2v1h-2zM663,261h1v1h-1zM751,261h1v1h-1zM240,262h1v1h-1zM560,262h1v1h-1zM635,262h1v1h-1zM662,262h1v1h-1zM751,262h1v1h-1zM241,263h1v1h-1zM426,263h5v1h-5zM560,263h1v1h-1zM636,263h1v1h-1zM661,263h1v1h-1zM752,263h1v1h-1zM242,264h1v1h-1zM424,264h2v1h-2zM431,264h5v1h-5zM559,264h1v1h-1zM637,264h1v1h-1zM660,264h1v1h-1zM752,264h1v1h-1zM243,265h1v1h-1zM422,265h2v1h-2zM436,265h1v1h-1zM558,265h1v1h-1zM638,265h1v1h-1zM659,265h1v1h-1zM752,265h1v1h-1zM244,266h1v1h-1zM420,266h2v1h-2zM437,266h1v1h-1zM558,266h1v1h-1zM639,266h1v1h-1zM657,266h2v1h-2zM753,266h1v1h-1zM244,267h1v1h-1zM419,267h1v1h-1zM438,267h1v1h-1zM557,267h1v1h-1zM640,267h1v1h-1zM655,267h2v1h-2zM753,267h1v1h-1zM245,268h1v1h-1zM418,268h1v1h-1zM439,268h1v1h-1zM556,268h1v1h-1zM641,268h1v1h-1zM654,268h1v1h-1zM754,268h1v1h-1zM246,269h1v1h-1zM417,269h1v1h-1zM440,269h1v1h-1zM556,269h1v1h-1zM642,269h1v1h-1zM652,269h2v1h-2zM754,269h1v1h-1zM247,270h1v1h-1zM416,270h1v1h-1zM441,270h1v1h-1zM555,270h1v1h-1zM643,270h9v1h-9zM755,270h1v1h-1zM247,271h1v1h-1zM415,271h1v1h-1zM442,271h1v1h-1zM554,271h1v1h-1zM755,271h1v1h-1zM248,272h1v1h-1zM414,272h1v1h-1zM443,272h1v1h-1zM554,272h1v1h-1zM755,272h1v1h-1zM249,273h1v1h-1zM413,273h1v1h-1zM444,273h1v1h-1zM553,273h1v1h-1zM756,273h1v1h-1zM250,274h1v1h-1zM412,274h1v1h-1zM445,274h1v1h-1zM553,274h1v1h-1zM756,274h1v1h-1zM250,275h1v1h-1zM411,275h1v1h-1zM446,275h1v1h-1zM552,275h1v1h-1zM757,275h1v1h-1zM251,276h1v1h-1zM410,276h1v1h-1zM447,276h1v1h-1zM552,276h1v1h-1zM757,276h1v1h-1zM252,277h1v1h-1zM410,277h1v1h-1zM448,277h1v1h-1zM551,277h1v1h-1zM758,277h1v1h-1zM252,278h1v1h-1zM409,278h1v1h-1zM449,278h1v1h-1zM550,278h1v1h-1zM758,278h1v1h-1zM253,279h1v1h-1zM409,279h1v1h-1zM450,279h1v1h-1zM550,279h1v1h-1zM758,279h1v1h-1zM253,280h1v1h-1zM408,280h1v1h-1zM451,280h1v1h-1zM549,280h1v1h-1zM759,280h1v1h-1zM254,281h1v1h-1zM407,281h1v1h-1zM452,281h1v1h-1zM549,281h1v1h-1zM759,281h1v1h-1zM254,282h1v1h-1zM407,282h1v1h-1zM452,282h1v1h-1zM548,282h1v1h-1zM760,282h1v1h-1zM255,283h1v1h-1zM406,283h1v1h-1zM453,283h1v1h-1zM548,283h1v1h-1zM760,283h1v1h-1zM256,284h1v1h-1zM405,284h1v1h-1zM453,284h1v1h-1zM547,284h1v1h-1zM760,284h1v1h-1zM256,285h1v1h-1zM405,285h1v1h-1zM454,285h1v1h-1zM547,285h1v1h-1zM761,285h1v1h-1zM257,286h1v1h-1zM404,286h1v1h-1zM454,286h1v1h-1zM546,286h1v1h-1zM761,286h1v1h-1zM257,287h1v1h-1zM404,287h1v1h-1zM455,287h1v1h-1zM546,287h1v1h-1zM762,287h1v1h-1zM258,288h1v1h-1zM403,288h1v1h-1zM455,288h1v1h-1zM545,288h1v1h-1zM762,288h1v1h-1zM258,289h1v1h-1zM402,289h1v1h-1zM456,289h1v1h-1zM545,289h1v1h-1zM763,289h1v1h-1zM259,290h1v1h-1zM401,290h1v1h-1zM456,290h1v1h-1zM544,290h1v1h-1zM763,290h1v1h-1zM260,291h1v1h-1zM400,291h1v1h-1zM457,291h1v1h-1zM544,291h1v1h-1zM763,291h1v1h-1zM260,292h1v1h-1zM399,292h1v1h-1zM457,292h1v1h-1zM543,292h1v1h-1zM764,292h1v1h-1zM261,293h1v1h-1zM398,293h1v1h-1zM458,293h1v1h-1zM543,293h1v1h-1zM764,293h1v1h-1zM261,294h1v1h-1zM397,294h1v1h-1zM458,294h1v1h-1zM542,294h1v1h-1zM765,294h1v1h-1zM262,295h1v1h-1zM396,295h1v1h-1zM459,295h1v1h-1zM542,295h1v1h-1zM765,295h1v1h-1zM262,296h1v1h-1zM395,296h1v1h-1zM459,296h1v1h-1zM541,296h1v1h-1zM765,296h1v1h-1zM263,297h1v1h-1zM393,297h2v1h-2zM460,297h1v1h-1zM541,297h1v1h-1zM766,297h1v1h-1zM263,298h1v1h-1zM392,298h1v1h-1zM460,298h1v1h-1zM540,298h1v1h-1zM766,298h1v1h-1zM264,299h1v1h-1zM391,299h1v1h-1zM461,299h1v1h-1zM540,299h1v1h-1zM766,299h1v1h-1zM264,300h1v1h-1zM389,300h2v1h-2zM461,300h1v1h-1zM539,300h1v1h-1zM767,300h1v1h-1zM265,301h1v1h-1zM388,301h1v1h-1zM462,301h1v1h-1zM538,301h1v1h-1zM767,301h1v1h-1zM265,302h1v1h-1zM387,302h1v1h-1zM462,302h1v1h-1zM538,302h1v1h-1zM768,302h1v1h-1zM266,303h1v1h-1zM386,303h1v1h-1zM463,303h1v1h-1zM537,303h1v1h-1zM768,303h1v1h-1zM266,304h1v1h-1zM385,304h1v1h-1zM463,304h1v1h-1zM537,304h1v1h-1zM768,304h1v1h-1zM267,305h1v1h-1zM384,305h1v1h-1zM464,305h1v1h-1zM536,305h1v1h-1zM769,305h1v1h-1zM267,306h1v1h-1zM383,306h1v1h-1zM464,306h1v1h-1zM536,306h1v1h-1zM769,306h1v1h-1zM268,307h1v1h-1zM383,307h1v1h-1zM465,307h1v1h-1zM535,307h1v1h-1zM769,307h1v1h-1zM268,308h1v1h-1zM382,308h1v1h-1zM465,308h1v1h-1zM534,308h1v1h-1zM770,308h1v1h-1zM269,309h1v1h-1zM381,309h1v1h-1zM466,309h1v1h-1zM534,309h1v1h-1zM770,309h1v1h-1zM269,310h1v1h-1zM380,310h1v1h-1zM466,310h1v1h-1zM533,310h1v1h-1zM771,310h1v1h-1zM270,311h1v1h-1zM379,311h1v1h-1zM467,311h1v1h-1zM533,311h1v1h-1zM771,311h1v1h-1zM271,312h1v1h-1zM377,312h2v1h-2zM467,312h1v1h-1zM532,312h1v1h-1zM771,312h1v1h-1zM271,313h1v1h-1zM376,313h1v1h-1zM467,313h1v1h-1zM532,313h1v1h-1zM772,313h1v1h-1zM272,314h1v1h-1zM375,314h1v1h-1zM468,314h1v1h-1zM531,314h1v1h-1zM772,314h1v1h-1zM273,315h1v1h-1zM373,315h2v1h-2zM468,315h1v1h-1zM530,315h1v1h-1zM773,315h1v1h-1zM273,316h1v1h-1zM363,316h4v1h-4zM372,316h1v1h-1zM469,316h1v1h-1zM530,316h1v1h-1zM773,316h1v1h-1zM274,317h1v1h-1zM361,317h2v1h-2zM367,317h5v1h-5zM469,317h1v1h-1zM529,317h1v1h-1zM773,317h1v1h-1zM274,318h1v1h-1zM360,318h1v1h-1zM470,318h1v1h-1zM529,318h1v1h-1zM774,318h1v1h-1zM275,319h1v1h-1zM359,319h1v1h-1zM470,319h1v1h-1zM528,319h1v1h-1zM774,319h1v1h-1zM276,320h1v1h-1zM357,320h2v1h-2zM470,320h1v1h-1zM528,320h1v1h-1zM775,320h1v1h-1zM277,321h1v1h-1zM356,321h1v1h-1zM471,321h1v1h-1zM527,321h1v1h-1zM775,321h1v1h-1zM278,322h1v1h-1zM354,322h2v1h-2zM471,322h1v1h-1zM526,322h1v1h-1zM775,322h1v1h-1zM279,323h1v1h-1zM351,323h3v1h-3zM472,323h1v1h-1zM526,323h1v1h-1zM776,323h1v1h-1zM280,324h1v1h-1zM349,324h2v1h-2zM472,324h1v1h-1zM525,324h1v1h-1zM776,324h1v1h-1zM281,325h1v1h-1zM347,325h2v1h-2zM472,325h1v1h-1zM525,325h1v1h-1zM777,325h1v1h-1zM282,326h1v1h-1zM345,326h2v1h-2zM473,326h1v1h-1zM524,326h1v1h-1zM777,326h1v1h-1zM283,327h1v1h-1zM343,327h2v1h-2zM473,327h1v1h-1zM524,327h1v1h-1zM777,327h1v1h-1zM284,328h1v1h-1zM342,328h1v1h-1zM474,328h1v1h-1zM523,328h1v1h-1zM778,328h1v1h-1zM285,329h1v1h-1zM340,329h2v1h-2zM474,329h1v1h-1zM522,329h1v1h-1zM778,329h1v1h-1zM286,330h1v1h-1zM335,330h5v1h-5zM475,330h1v1h-1zM522,330h1v1h-1zM779,330h1v1h-1zM287,331h1v1h-1zM329,331h6v1h-6zM475,331h1v1h-1zM521,331h1v1h-1zM779,331h1v1h-1zM288,332h1v1h-1zM325,332h4v1h-4zM476,332h1v1h-1zM520,332h1v1h-1zM779,332h1v1h-1zM289,333h1v1h-1zM323,333h2v1h-2zM476,333h1v1h-1zM520,333h1v1h-1zM780,333h1v1h-1zM290,334h1v1h-1zM322,334h1v1h-1zM477,334h1v1h-1zM519,334h1v1h-1zM780,334h1v1h-1zM291,335h1v1h-1zM321,335h1v1h-1zM478,335h1v1h-1zM518,335h1v1h-1zM780,335h1v1h-1zM292,336h1v1h-1zM320,336h1v1h-1zM479,336h1v1h-1zM518,336h1v1h-1zM781,336h1v1h-1zM293,337h1v1h-1zM319,337h1v1h-1zM479,337h1v1h-1zM517,337h1v1h-1zM781,337h1v1h-1zM294,338h1v1h-1zM319,338h1v1h-1zM480,338h1v1h-1zM516,338h1v1h-1zM781,338h1v1h-1zM295,339h1v1h-1zM318,339h1v1h-1zM481,339h1v1h-1zM516,339h1v1h-1zM782,339h1v1h-1zM295,340h1v1h-1zM317,340h1v1h-1zM482,340h1v1h-1zM515,340h1v1h-1zM782,340h1v1h-1zM296,341h1v1h-1zM316,341h1v1h-1zM482,341h1v1h-1zM514,341h1v1h-1zM782,341h1v1h-1zM297,342h1v1h-1zM315,342h1v1h-1zM483,342h1v1h-1zM514,342h1v1h-1zM783,342h1v1h-1zM298,343h1v1h-1zM313,343h2v1h-2zM484,343h1v1h-1zM513,343h1v1h-1zM783,343h1v1h-1zM299,344h2v1h-2zM311,344h2v1h-2zM485,344h1v1h-1zM512,344h1v1h-1zM783,344h1v1h-1zM301,345h2v1h-2zM310,345h1v1h-1zM485,345h1v1h-1zM511,345h1v1h-1zM784,345h1v1h-1zM303,346h3v1h-3zM308,346h2v1h-2zM486,346h1v1h-1zM511,346h1v1h-1zM784,346h1v1h-1zM306,347h2v1h-2zM487,347h1v1h-1zM510,347h1v1h-1zM784,347h1v1h-1zM488,348h1v1h-1zM509,348h1v1h-1zM785,348h1v1h-1zM489,349h1v1h-1zM508,349h1v1h-1zM785,349h1v1h-1zM489,350h1v1h-1zM508,350h1v1h-1zM785,350h1v1h-1zM490,351h1v1h-1zM505,351h3v1h-3zM786,351h1v1h-1zM491,352h4v1h-4zM501,352h4v1h-4zM786,352h1v1h-1zM495,353h6v1h-6zM786,353h1v1h-1zM787,354h1v1h-1zM787,355h1v1h-1zM787,356h1v1h-1zM788,357h1v1h-1zM788,358h1v1h-1zM789,359h1v1h-1zM789,360h1v1h-1zM789,361h1v1h-1zM790,362h1v1h-1zM790,363h1v1h-1zM790,364h1v1h-1zM791,365h1v1h-1zM791,366h1v1h-1zM792,367h1v1h-1zM792,368h1v1h-1zM792,369h1v1h-1zM1097,369h19v1h-19zM793,370h1v1h-1zM1093,370h4v1h-4zM793,371h1v1h-1zM1090,371h3v1h-3zM793,372h1v1h-1zM1088,372h2v1h-2zM794,373h1v1h-1zM1086,373h2v1h-2zM794,374h1v1h-1zM1084,374h2v1h-2zM795,375h1v1h-1zM1083,375h1v1h-1zM795,376h1v1h-1zM1082,376h1v1h-1zM796,377h1v1h-1zM1081,377h1v1h-1zM796,378h1v1h-1zM1081,378h1v1h-1zM797,379h1v1h-1zM1080,379h1v1h-1zM797,380h1v1h-1zM1079,380h1v1h-1zM798,381h1v1h-1zM1078,381h1v1h-1zM798,382h1v1h-1zM1077,382h1v1h-1zM799,383h1v1h-1zM1077,383h1v1h-1zM799,384h1v1h-1zM1076,384h1v1h-1zM800,385h1v1h-1zM1075,385h1v1h-1zM800,386h1v1h-1zM1074,386h1v1h-1zM801,387h1v1h-1zM1073,387h1v1h-1zM801,388h1v1h-1zM1072,388h1v1h-1zM802,389h1v1h-1zM1071,389h1v1h-1zM802,390h1v1h-1zM1070,390h1v1h-1zM803,391h1v1h-1zM1069,391h1v1h-1zM803,392h1v1h-1zM1068,392h1v1h-1zM804,393h1v1h-1zM1067,393h1v1h-1zM804,394h1v1h-1zM1066,394h1v1h-1zM805,395h1v1h-1zM1066,395h1v1h-1zM805,396h1v1h-1zM1065,396h1v1h-1zM805,397h1v1h-1zM1065,397h1v1h-1zM806,398h1v1h-1zM1064,398h1v1h-1zM806,399h1v1h-1zM1064,399h1v1h-1zM807,400h1v1h-1zM1063,400h1v1h-1zM807,401h1v1h-1zM1063,401h1v1h-1zM807,402h1v1h-1zM1062,402h1v1h-1zM808,403h1v1h-1zM1062,403h1v1h-1zM808,404h1v1h-1zM1061,404h1v1h-1zM809,405h1v1h-1zM1061,405h1v1h-1zM809,406h1v1h-1zM1060,406h1v1h-1zM809,407h1v1h-1zM1060,407h1v1h-1zM810,408h1v1h-1zM1059,408h1v1h-1zM810,409h1v1h-1zM1059,409h1v1h-1zM811,410h1v1h-1zM1058,410h1v1h-1zM811,411h1v1h-1zM1058,411h1v1h-1zM811,412h1v1h-1zM1057,412h1v1h-1zM812,413h1v1h-1zM1057,413h1v1h-1zM812,414h1v1h-1zM1057,414h1v1h-1zM813,415h1v1h-1zM1056,415h1v1h-1zM813,416h1v1h-1zM1056,416h1v1h-1zM814,417h1v1h-1zM1055,417h1v1h-1zM814,418h1v1h-1zM1055,418h1v1h-1zM815,419h1v1h-1zM1055,419h1v1h-1zM815,420h1v1h-1zM1054,420h1v1h-1zM815,421h1v1h-1zM1054,421h1v1h-1zM816,422h1v1h-1zM1053,422h1v1h-1zM816,423h1v1h-1zM1053,423h1v1h-1zM817,424h1v1h-1zM1053,424h1v1h-1zM817,425h1v1h-1zM1052,425h1v1h-1zM818,426h1v1h-1zM1052,426h1v1h-1zM818,427h1v1h-1zM1051,427h1v1h-1zM819,428h1v1h-1zM1051,428h1v1h-1zM819,429h1v1h-1zM1051,429h1v1h-1zM820,430h1v1h-1zM1050,430h1v1h-1zM820,431h1v1h-1zM1050,431h1v1h-1zM821,432h1v1h-1zM1049,432h1v1h-1zM821,433h1v1h-1zM1049,433h1v1h-1zM822,434h1v1h-1zM1048,434h1v1h-1zM822,435h1v1h-1zM1048,435h1v1h-1zM823,436h1v1h-1zM1048,436h1v1h-1zM823,437h1v1h-1zM1047,437h1v1h-1zM824,438h1v1h-1zM1047,438h1v1h-1zM824,439h1v1h-1zM1046,439h1v1h-1zM825,440h1v1h-1zM1046,440h1v1h-1zM825,441h1v1h-1zM1046,441h1v1h-1zM826,442h1v1h-1zM1045,442h1v1h-1zM826,443h1v1h-1zM1045,443h1v1h-1zM827,444h1v1h-1zM1044,444h1v1h-1zM827,445h1v1h-1zM1044,445h1v1h-1zM828,446h2v1h-2zM1043,446h1v1h-1zM830,447h1v1h-1zM1043,447h1v1h-1zM831,448h2v1h-2zM1042,448h1v1h-1zM833,449h2v1h-2zM1042,449h1v1h-1zM835,450h4v1h-4zM1041,450h1v1h-1zM839,451h6v1h-6zM1041,451h1v1h-1zM845,452h2v1h-2zM882,452h2v1h-2zM1040,452h1v1h-1zM847,453h3v1h-3zM879,453h3v1h-3zM884,453h2v1h-2zM1040,453h1v1h-1zM850,454h2v1h-2zM867,454h4v1h-4zM877,454h2v1h-2zM886,454h2v1h-2zM1039,454h1v1h-1zM852,455h2v1h-2zM865,455h2v1h-2zM871,455h6v1h-6zM888,455h2v1h-2zM1039,455h1v1h-1zM854,456h1v1h-1zM863,456h2v1h-2zM890,456h5v1h-5zM1038,456h1v1h-1zM855,457h2v1h-2zM862,457h1v1h-1zM895,457h6v1h-6zM914,457h3v1h-3zM1038,457h1v1h-1zM857,458h2v1h-2zM860,458h2v1h-2zM901,458h2v1h-2zM911,458h3v1h-3zM917,458h4v1h-4zM1037,458h1v1h-1zM859,459h1v1h-1zM903,459h3v1h-3zM909,459h2v1h-2zM921,459h12v1h-12zM1037,459h1v1h-1zM906,460h3v1h-3zM933,460h2v1h-2zM1036,460h1v1h-1zM935,461h3v1h-3zM1036,461h1v1h-1zM938,462h2v1h-2zM1035,462h1v1h-1zM940,463h1v1h-1zM1035,463h1v1h-1zM941,464h1v1h-1zM1034,464h1v1h-1zM941,465h1v1h-1zM1034,465h1v1h-1zM942,466h1v1h-1zM1033,466h1v1h-1zM943,467h1v1h-1zM1033,467h1v1h-1zM944,468h1v1h-1zM1032,468h1v1h-1zM945,469h1v1h-1zM1032,469h1v1h-1zM945,470h1v1h-1zM1031,470h1v1h-1zM946,471h1v1h-1zM1031,471h1v1h-1zM947,472h2v1h-2zM1030,472h1v1h-1zM949,473h4v1h-4zM1030,473h1v1h-1zM953,474h11v1h-11zM1029,474h1v1h-1zM964,475h2v1h-2zM1029,475h1v1h-1zM966,476h1v1h-1zM1028,476h1v1h-1zM967,477h2v1h-2zM1028,477h1v1h-1zM969,478h2v1h-2zM1027,478h1v1h-1zM971,479h1v1h-1zM1026,479h1v1h-1zM972,480h1v1h-1zM1025,480h1v1h-1zM973,481h1v1h-1zM1025,481h1v1h-1zM974,482h1v1h-1zM1024,482h1v1h-1zM975,483h2v1h-2zM1023,483h1v1h-1zM977,484h1v1h-1zM1022,484h1v1h-1zM978,485h1v1h-1zM1021,485h1v1h-1zM979,486h2v1h-2zM1021,486h1v1h-1zM981,487h2v1h-2zM1020,487h1v1h-1zM983,488h3v1h-3zM1019,488h1v1h-1zM986,489h2v1h-2zM1017,489h2v1h-2zM988,490h2v1h-2zM1015,490h2v1h-2zM990,491h2v1h-2zM1014,491h1v1h-1zM992,492h2v1h-2zM999,492h8v1h-8zM1012,492h2v1h-2zM994,493h5v1h-5zM1007,493h5v1h-5z" fill="#0000d0"/>
</g>
<rect x="1412" y="359" width="7" height="7" fill="#ff0000"/>
<rect x="1415" y="362" width="1" height="1" fill="#fff"/>
<rect x="1419" y="359" width="1" height="7" fill="#fff"/>
<rect x="2" y="359" width="7" height="7" fill="#ff0000"/>
<rect x="5" y="362" width="1" height="1" fill="#fff"/>
<rect x="1412" y="476" width="7" height="7" fill="#00ff00"/>
<rect x="1415" y="479" width="1" height="1" fill="#fff"/>
<rect x="1419" y="476" width="1" height="7" fill="#fff"/>
<rect x="2" y="476" width="7" height="7" fill="#00ff00"/>
<rect x="5" y="479" width="1" height="1" fill="#fff"/>
<rect x="1412" y="548" width="7" height="7" fill="#0000ff"/>
<rect x="1415" y="551" width="1" height="1" fill="#fff"/>
<rect x="1419" y="548" width="1" height="7" fill="#fff"/>
<rect x="2" y="548" width="7" height="7" fill="#0000ff"/>
<rect x="5" y="551" width="1" height="1" fill="#fff"/>
<polygon points="1129,24 1138,24 1133.5,29" fill="#c0c0c0"/>
<defs><linearGradient id="gh" x1="0" y1="0" x2="0" y2="1"><stop offset="0" stop-color="#4e4ef4"/><stop offset="1" stop-color="#3a3ae2"/></linearGradient><linearGradient id="gb" x1="0" y1="0" x2="0" y2="1"><stop offset="0" stop-color="#3232de"/><stop offset="1" stop-color="#0000a6"/></linearGradient><linearGradient id="gbtn" x1="0" y1="0" x2="0" y2="1"><stop offset="0" stop-color="#f2f2f2"/><stop offset="0.45" stop-color="#ebebeb"/><stop offset="0.5" stop-color="#dddddd"/><stop offset="1" stop-color="#d0d0d0"/></linearGradient></defs>
<rect x="3" y="24" width="224" height="85" fill="#ffffff"/>
<path d="M6,43 H58 V67 H115 V107 H6 Z" fill="#0000c0"/>
<path d="M173,43 H225 V107 H117 V67 H173 Z" fill="#0000c0"/>
<rect x="7" y="44" width="50" height="23" fill="url(#gh)"/>
<rect x="7" y="67" width="107" height="39" fill="url(#gb)"/>
<rect x="174" y="44" width="50" height="23" fill="url(#gh)"/>
<rect x="118" y="67" width="106" height="39" fill="url(#gb)"/>
<rect x="7" y="44" width="50" height="1" fill="#5a5aff"/>
<rect x="7" y="44" width="1" height="23" fill="#5a5aff"/>
<rect x="174" y="44" width="50" height="1" fill="#5a5aff"/>
<rect x="174" y="44" width="1" height="23" fill="#5a5aff"/>
<rect x="58" y="38" width="115" height="29" fill="#ffffff"/>
<rect x="10" y="66" width="45" height="1" fill="#00008c"/>
<rect x="10" y="67" width="45" height="1" fill="#7878ff"/>
<rect x="177" y="66" width="45" height="1" fill="#00008c"/>
<rect x="177" y="67" width="45" height="1" fill="#7878ff"/>
<rect x="60" y="43" width="111" height="22" fill="#a8a8a8"/>
<rect x="61" y="44" width="109" height="20" fill="#ffffff"/>
<rect x="61" y="44" width="20" height="20" fill="url(#gbtn)"/>
<rect x="81" y="44" width="1" height="20" fill="#b0b0b0"/>
<rect x="150" y="44" width="20" height="20" fill="url(#gbtn)"/>
<rect x="149" y="44" width="1" height="20" fill="#b0b0b0"/>
<polygon points="67.5,52 73.5,52 70.5,55" fill="#5a78c8"/>
<polygon points="156.5,55 162.5,55 159.5,52" fill="#5a78c8"/>
<text x="122.9" y="58" font-size="12" fill="#000" textLength="22.7" lengthAdjust="spacingAndGlyphs">1.00</text>
<text x="18.7" y="59" font-size="12" fill="#fff" textLength="25.2" lengthAdjust="spacingAndGlyphs">SELL</text>
<text x="186.6" y="59" font-size="12" fill="#fff" textLength="23.5" lengthAdjust="spacingAndGlyphs">BUY</text>
<text x="26.2" y="98" font-size="12" fill="#fff" textLength="23.7" lengthAdjust="spacingAndGlyphs" font-weight="bold">0.68</text>
<text x="136.3" y="98" font-size="12" fill="#fff" textLength="23.5" lengthAdjust="spacingAndGlyphs" font-weight="bold">0.68</text>
<text x="54.4" y="97.5" font-size="32.5" fill="#fff" textLength="34.2" lengthAdjust="spacingAndGlyphs">56</text>
<text x="166.3" y="97.5" font-size="32.5" fill="#fff" textLength="32.6" lengthAdjust="spacingAndGlyphs">58</text>
<text x="93.8" y="82" font-size="10" fill="#fff" textLength="6" lengthAdjust="spacingAndGlyphs" font-weight="bold">1</text>
<text x="205.3" y="82" font-size="10" fill="#fff" textLength="5.8" lengthAdjust="spacingAndGlyphs" font-weight="bold">0</text>
<polygon points="6.5,34 13.5,34 10,30" fill="#000"/>
<text x="19" y="35" font-size="10" fill="#000" textLength="67.2" lengthAdjust="spacingAndGlyphs" stroke="#000" stroke-width="0.22">AUDUSD-,Daily</text>
<text x="93.2" y="35" font-size="10" fill="#000" textLength="139.8" lengthAdjust="spacingAndGlyphs" stroke="#000" stroke-width="0.22">0.68655 0.68655 0.68549 0.68561</text>
<rect x="1419" y="31" width="2" height="1" fill="#000"/>
<text x="1424.3" y="35" font-size="10" fill="#000" textLength="33" lengthAdjust="spacingAndGlyphs" stroke="#000" stroke-width="0.25">0.72250</text>
<rect x="1419" y="64" width="2" height="1" fill="#000"/>
<text x="1424.3" y="68" font-size="10" fill="#000" textLength="33" lengthAdjust="spacingAndGlyphs" stroke="#000" stroke-width="0.25">0.71900</text>
<rect x="1419" y="97" width="2" height="1" fill="#000"/>
<text x="1424.3" y="101" font-size="10" fill="#000" textLength="33" lengthAdjust="spacingAndGlyphs" stroke="#000" stroke-width="0.25">0.71550</text>
<rect x="1419" y="130" width="2" height="1" fill="#000"/>
<text x="1424.3" y="134" font-size="10" fill="#000" textLength="33" lengthAdjust="spacingAndGlyphs" stroke="#000" stroke-width="0.25">0.71200</text>
<rect x="1419" y="163" width="2" height="1" fill="#000"/>
<text x="1424.3" y="167" font-size="10" fill="#000" textLength="33" lengthAdjust="spacingAndGlyphs" stroke="#000" stroke-width="0.25">0.70850</text>
<rect x="1419" y="196" width="2" height="1" fill="#000"/>
<text x="1424.3" y="200" font-size="10" fill="#000" textLength="33" lengthAdjust="spacingAndGlyphs" stroke="#000" stroke-width="0.25">0.70500</text>
<rect x="1419" y="229" width="2" height="1" fill="#000"/>
<text x="1424.3" y="233" font-size="10" fill="#000" textLength="33" lengthAdjust="spacingAndGlyphs" stroke="#000" stroke-width="0.25">0.70150</text>
<rect x="1419" y="262" width="2" height="1" fill="#000"/>
<text x="1424.3" y="266" font-size="10" fill="#000" textLength="33" lengthAdjust="spacingAndGlyphs" stroke="#000" stroke-width="0.25">0.69800</text>
<rect x="1419" y="295" width="2" height="1" fill="#000"/>
<text x="1424.3" y="299" font-size="10" fill="#000" textLength="33" lengthAdjust="spacingAndGlyphs" stroke="#000" stroke-width="0.25">0.69450</text>
<rect x="1419" y="328" width="2" height="1" fill="#000"/>
<text x="1424.3" y="332" font-size="10" fill="#000" textLength="33" lengthAdjust="spacingAndGlyphs" stroke="#000" stroke-width="0.25">0.69100</text>
<rect x="1419" y="361" width="2" height="1" fill="#000"/>
<text x="1424.3" y="365" font-size="10" fill="#000" textLength="33" lengthAdjust="spacingAndGlyphs" stroke="#000" stroke-width="0.25">0.68750</text>
<rect x="1419" y="394" width="2" height="1" fill="#000"/>
<text x="1424.3" y="398" font-size="10" fill="#000" textLength="33" lengthAdjust="spacingAndGlyphs" stroke="#000" stroke-width="0.25">0.68400</text>
<rect x="1419" y="427" width="2" height="1" fill="#000"/>
<text x="1424.3" y="431" font-size="10" fill="#000" textLength="33" lengthAdjust="spacingAndGlyphs" stroke="#000" stroke-width="0.25">0.68050</text>
<rect x="1419" y="460" width="2" height="1" fill="#000"/>
<text x="1424.3" y="464" font-size="10" fill="#000" textLength="33" lengthAdjust="spacingAndGlyphs" stroke="#000" stroke-width="0.25">0.67710</text>
<rect x="1419" y="493" width="2" height="1" fill="#000"/>
<text x="1424.3" y="497" font-size="10" fill="#000" textLength="33" lengthAdjust="spacingAndGlyphs" stroke="#000" stroke-width="0.25">0.67360</text>
<rect x="1419" y="526" width="2" height="1" fill="#000"/>
<text x="1424.3" y="530" font-size="10" fill="#000" textLength="33" lengthAdjust="spacingAndGlyphs" stroke="#000" stroke-width="0.25">0.67010</text>
<rect x="1419" y="559" width="2" height="1" fill="#000"/>
<text x="1424.3" y="563" font-size="10" fill="#000" textLength="33" lengthAdjust="spacingAndGlyphs" stroke="#000" stroke-width="0.25">0.66660</text>
<rect x="1420" y="143" width="41" height="11" fill="#ff0000"/>
<text x="1424.3" y="153" font-size="10" fill="#fff" textLength="33" lengthAdjust="spacingAndGlyphs" stroke="#fff" stroke-width="0.25">0.71005</text>
<rect x="1420" y="237" width="41" height="11" fill="#ff0000"/>
<text x="1424.3" y="247" font-size="10" fill="#fff" textLength="33" lengthAdjust="spacingAndGlyphs" stroke="#fff" stroke-width="0.25">0.70002</text>
<rect x="1420" y="356" width="41" height="11" fill="#ff0000"/>
<text x="1424.3" y="366" font-size="10" fill="#fff" textLength="33" lengthAdjust="spacingAndGlyphs" stroke="#fff" stroke-width="0.25">0.68746</text>
<rect x="1420" y="374" width="41" height="11" fill="#000000"/>
<text x="1424.3" y="384" font-size="10" fill="#fff" textLength="33" lengthAdjust="spacingAndGlyphs" stroke="#fff" stroke-width="0.25">0.68561</text>
<rect x="1420" y="473" width="41" height="11" fill="#00ff00"/>
<text x="1424.3" y="483" font-size="10" fill="#fff" textLength="33" lengthAdjust="spacingAndGlyphs" stroke="#fff" stroke-width="0.25">0.67508</text>
<rect x="1420" y="545" width="41" height="11" fill="#0000ff"/>
<text x="1424.3" y="555" font-size="10" fill="#fff" textLength="33" lengthAdjust="spacingAndGlyphs" stroke="#fff" stroke-width="0.25">0.66746</text>
<g clip-path="url(#cmacd)" shape-rendering="crispEdges">
<rect x="3" y="593" width="1" height="3" fill="#c0c0c0"/>
<rect x="11" y="591" width="1" height="5" fill="#c0c0c0"/>
<rect x="19" y="586" width="1" height="10" fill="#c0c0c0"/>
<rect x="27" y="586" width="1" height="10" fill="#c0c0c0"/>
<rect x="35" y="582" width="1" height="14" fill="#c0c0c0"/>
<rect x="43" y="579" width="1" height="17" fill="#c0c0c0"/>
<rect x="51" y="577" width="1" height="19" fill="#c0c0c0"/>
<rect x="59" y="576" width="1" height="20" fill="#c0c0c0"/>
<rect x="67" y="574" width="1" height="22" fill="#c0c0c0"/>
<rect x="75" y="576" width="1" height="20" fill="#c0c0c0"/>
<rect x="83" y="577" width="1" height="19" fill="#c0c0c0"/>
<rect x="91" y="579" width="1" height="17" fill="#c0c0c0"/>
<rect x="99" y="585" width="1" height="11" fill="#c0c0c0"/>
<rect x="107" y="595" width="1" height="2" fill="#c0c0c0"/>
<rect x="115" y="595" width="1" height="11" fill="#c0c0c0"/>
<rect x="123" y="595" width="1" height="16" fill="#c0c0c0"/>
<rect x="131" y="595" width="1" height="19" fill="#c0c0c0"/>
<rect x="139" y="595" width="1" height="20" fill="#c0c0c0"/>
<rect x="147" y="595" width="1" height="22" fill="#c0c0c0"/>
<rect x="155" y="595" width="1" height="26" fill="#c0c0c0"/>
<rect x="163" y="595" width="1" height="30" fill="#c0c0c0"/>
<rect x="171" y="595" width="1" height="32" fill="#c0c0c0"/>
<rect x="179" y="595" width="1" height="36" fill="#c0c0c0"/>
<rect x="187" y="595" width="1" height="37" fill="#c0c0c0"/>
<rect x="195" y="595" width="1" height="37" fill="#c0c0c0"/>
<rect x="203" y="595" width="1" height="37" fill="#c0c0c0"/>
<rect x="211" y="595" width="1" height="37" fill="#c0c0c0"/>
<rect x="219" y="595" width="1" height="36" fill="#c0c0c0"/>
<rect x="227" y="595" width="1" height="36" fill="#c0c0c0"/>
<rect x="235" y="595" width="1" height="39" fill="#c0c0c0"/>
<rect x="243" y="595" width="1" height="42" fill="#c0c0c0"/>
<rect x="251" y="595" width="1" height="44" fill="#c0c0c0"/>
<rect x="259" y="595" width="1" height="49" fill="#c0c0c0"/>
<rect x="267" y="595" width="1" height="54" fill="#c0c0c0"/>
<rect x="275" y="595" width="1" height="54" fill="#c0c0c0"/>
<rect x="283" y="595" width="1" height="52" fill="#c0c0c0"/>
<rect x="291" y="595" width="1" height="54" fill="#c0c0c0"/>
<rect x="299" y="595" width="1" height="55" fill="#c0c0c0"/>
<rect x="307" y="595" width="1" height="53" fill="#c0c0c0"/>
<rect x="315" y="595" width="1" height="47" fill="#c0c0c0"/>
<rect x="323" y="595" width="1" height="43" fill="#c0c0c0"/>
<rect x="331" y="595" width="1" height="40" fill="#c0c0c0"/>
<rect x="339" y="595" width="1" height="37" fill="#c0c0c0"/>
<rect x="347" y="595" width="1" height="35" fill="#c0c0c0"/>
<rect x="355" y="595" width="1" height="33" fill="#c0c0c0"/>
<rect x="363" y="595" width="1" height="29" fill="#c0c0c0"/>
<rect x="371" y="595" width="1" height="26" fill="#c0c0c0"/>
<rect x="379" y="595" width="1" height="20" fill="#c0c0c0"/>
<rect x="387" y="595" width="1" height="13" fill="#c0c0c0"/>
<rect x="395" y="595" width="1" height="10" fill="#c0c0c0"/>
<rect x="403" y="595" width="1" height="6" fill="#c0c0c0"/>
<rect x="411" y="595" width="1" height="1" fill="#c0c0c0"/>
<rect x="419" y="593" width="1" height="3" fill="#c0c0c0"/>
<rect x="427" y="593" width="1" height="3" fill="#c0c0c0"/>
<rect x="435" y="593" width="1" height="3" fill="#c0c0c0"/>
<rect x="443" y="595" width="1" height="1" fill="#c0c0c0"/>
<rect x="451" y="595" width="1" height="5" fill="#c0c0c0"/>
<rect x="459" y="595" width="1" height="13" fill="#c0c0c0"/>
<rect x="467" y="595" width="1" height="17" fill="#c0c0c0"/>
<rect x="475" y="595" width="1" height="22" fill="#c0c0c0"/>
<rect x="483" y="595" width="1" height="24" fill="#c0c0c0"/>
<rect x="491" y="595" width="1" height="24" fill="#c0c0c0"/>
<rect x="499" y="595" width="1" height="21" fill="#c0c0c0"/>
<rect x="507" y="595" width="1" height="18" fill="#c0c0c0"/>
<rect x="515" y="595" width="1" height="14" fill="#c0c0c0"/>
<rect x="523" y="595" width="1" height="8" fill="#c0c0c0"/>
<rect x="531" y="595" width="1" height="5" fill="#c0c0c0"/>
<rect x="539" y="594" width="1" height="2" fill="#c0c0c0"/>
<rect x="547" y="588" width="1" height="8" fill="#c0c0c0"/>
<rect x="555" y="583" width="1" height="13" fill="#c0c0c0"/>
<rect x="563" y="578" width="1" height="18" fill="#c0c0c0"/>
<rect x="571" y="580" width="1" height="16" fill="#c0c0c0"/>
<rect x="579" y="579" width="1" height="17" fill="#c0c0c0"/>
<rect x="587" y="574" width="1" height="22" fill="#c0c0c0"/>
<rect x="595" y="572" width="1" height="24" fill="#c0c0c0"/>
<rect x="603" y="575" width="1" height="21" fill="#c0c0c0"/>
<rect x="611" y="577" width="1" height="19" fill="#c0c0c0"/>
<rect x="619" y="579" width="1" height="17" fill="#c0c0c0"/>
<rect x="627" y="586" width="1" height="10" fill="#c0c0c0"/>
<rect x="635" y="588" width="1" height="8" fill="#c0c0c0"/>
<rect x="643" y="588" width="1" height="8" fill="#c0c0c0"/>
<rect x="651" y="584" width="1" height="12" fill="#c0c0c0"/>
<rect x="659" y="582" width="1" height="14" fill="#c0c0c0"/>
<rect x="667" y="578" width="1" height="18" fill="#c0c0c0"/>
<rect x="675" y="577" width="1" height="19" fill="#c0c0c0"/>
<rect x="683" y="578" width="1" height="18" fill="#c0c0c0"/>
<rect x="691" y="573" width="1" height="23" fill="#c0c0c0"/>
<rect x="699" y="572" width="1" height="24" fill="#c0c0c0"/>
<rect x="707" y="571" width="1" height="25" fill="#c0c0c0"/>
<rect x="715" y="572" width="1" height="24" fill="#c0c0c0"/>
<rect x="723" y="576" width="1" height="20" fill="#c0c0c0"/>
<rect x="731" y="581" width="1" height="15" fill="#c0c0c0"/>
<rect x="739" y="587" width="1" height="9" fill="#c0c0c0"/>
<rect x="747" y="595" width="1" height="1" fill="#c0c0c0"/>
<rect x="755" y="595" width="1" height="8" fill="#c0c0c0"/>
<rect x="763" y="595" width="1" height="14" fill="#c0c0c0"/>
<rect x="771" y="595" width="1" height="21" fill="#c0c0c0"/>
<rect x="779" y="595" width="1" height="29" fill="#c0c0c0"/>
<rect x="787" y="595" width="1" height="38" fill="#c0c0c0"/>
<rect x="795" y="595" width="1" height="46" fill="#c0c0c0"/>
<rect x="803" y="595" width="1" height="52" fill="#c0c0c0"/>
<rect x="811" y="595" width="1" height="58" fill="#c0c0c0"/>
<rect x="819" y="595" width="1" height="63" fill="#c0c0c0"/>
<rect x="827" y="595" width="1" height="66" fill="#c0c0c0"/>
<rect x="835" y="595" width="1" height="63" fill="#c0c0c0"/>
<rect x="843" y="595" width="1" height="62" fill="#c0c0c0"/>
<rect x="851" y="595" width="1" height="61" fill="#c0c0c0"/>
<rect x="859" y="595" width="1" height="62" fill="#c0c0c0"/>
<rect x="867" y="595" width="1" height="58" fill="#c0c0c0"/>
<rect x="875" y="595" width="1" height="58" fill="#c0c0c0"/>
<rect x="883" y="595" width="1" height="56" fill="#c0c0c0"/>
<rect x="891" y="595" width="1" height="53" fill="#c0c0c0"/>
<rect x="899" y="595" width="1" height="49" fill="#c0c0c0"/>
<rect x="907" y="595" width="1" height="49" fill="#c0c0c0"/>
<rect x="915" y="595" width="1" height="46" fill="#c0c0c0"/>
<rect x="923" y="595" width="1" height="43" fill="#c0c0c0"/>
<rect x="931" y="595" width="1" height="42" fill="#c0c0c0"/>
<rect x="939" y="595" width="1" height="42" fill="#c0c0c0"/>
<rect x="947" y="595" width="1" height="45" fill="#c0c0c0"/>
<rect x="955" y="595" width="1" height="41" fill="#c0c0c0"/>
<rect x="963" y="595" width="1" height="39" fill="#c0c0c0"/>
<rect x="971" y="595" width="1" height="38" fill="#c0c0c0"/>
<rect x="979" y="595" width="1" height="37" fill="#c0c0c0"/>
<rect x="987" y="595" width="1" height="37" fill="#c0c0c0"/>
<rect x="995" y="595" width="1" height="37" fill="#c0c0c0"/>
<rect x="1003" y="595" width="1" height="37" fill="#c0c0c0"/>
<rect x="1011" y="595" width="1" height="33" fill="#c0c0c0"/>
<rect x="1019" y="595" width="1" height="26" fill="#c0c0c0"/>
<rect x="1027" y="595" width="1" height="18" fill="#c0c0c0"/>
<rect x="1035" y="595" width="1" height="9" fill="#c0c0c0"/>
<rect x="1043" y="595" width="1" height="3" fill="#c0c0c0"/>
<rect x="1051" y="590" width="1" height="6" fill="#c0c0c0"/>
<rect x="1059" y="586" width="1" height="10" fill="#c0c0c0"/>
<rect x="1067" y="580" width="1" height="16" fill="#c0c0c0"/>
<rect x="1075" y="577" width="1" height="19" fill="#c0c0c0"/>
<rect x="1083" y="574" width="1" height="22" fill="#c0c0c0"/>
<rect x="1091" y="571" width="1" height="25" fill="#c0c0c0"/>
<rect x="1099" y="571" width="1" height="25" fill="#c0c0c0"/>
<rect x="1107" y="571" width="1" height="25" fill="#c0c0c0"/>
<rect x="1115" y="572" width="1" height="24" fill="#c0c0c0"/>
<path d="M719,575h1v1h-1zM723,575h3v1h-3zM729,575h3v1h-3zM713,576h1v1h-1zM717,576h2v1h-2zM735,576h3v1h-3zM615,577h3v1h-3zM621,577h2v1h-2zM711,577h2v1h-2zM741,577h3v1h-3zM1114,577h2v1h-2zM95,578h1v1h-1zM99,578h2v1h-2zM609,578h3v1h-3zM623,578h1v1h-1zM627,578h3v1h-3zM705,578h3v1h-3zM747,578h2v1h-2zM1113,578h1v1h-1zM81,579h3v1h-3zM87,579h3v1h-3zM93,579h2v1h-2zM101,579h1v1h-1zM605,579h1v1h-1zM633,579h3v1h-3zM701,579h1v1h-1zM749,579h1v1h-1zM1109,579h1v1h-1zM77,580h1v1h-1zM105,580h3v1h-3zM603,580h2v1h-2zM639,580h3v1h-3zM645,580h3v1h-3zM651,580h3v1h-3zM699,580h2v1h-2zM753,580h1v1h-1zM1107,580h2v1h-2zM75,581h2v1h-2zM599,581h1v1h-1zM657,581h3v1h-3zM693,581h3v1h-3zM754,581h2v1h-2zM69,582h3v1h-3zM111,582h3v1h-3zM597,582h2v1h-2zM663,582h3v1h-3zM669,582h3v1h-3zM675,582h3v1h-3zM681,582h3v1h-3zM687,582h3v1h-3zM1102,582h2v1h-2zM63,583h3v1h-3zM759,583h1v1h-1zM1101,583h1v1h-1zM57,584h3v1h-3zM117,584h1v1h-1zM592,584h2v1h-2zM760,584h2v1h-2zM53,585h1v1h-1zM118,585h2v1h-2zM591,585h1v1h-1zM1096,585h2v1h-2zM51,586h2v1h-2zM765,586h1v1h-1zM1095,586h1v1h-1zM45,587h3v1h-3zM123,587h1v1h-1zM586,587h2v1h-2zM766,587h1v1h-1zM41,588h1v1h-1zM124,588h2v1h-2zM585,588h1v1h-1zM767,588h1v1h-1zM1091,588h1v1h-1zM39,589h2v1h-2zM581,589h1v1h-1zM1089,589h2v1h-2zM33,590h3v1h-3zM129,590h1v1h-1zM579,590h2v1h-2zM771,590h1v1h-1zM29,591h1v1h-1zM130,591h2v1h-2zM772,591h1v1h-1zM23,592h1v1h-1zM27,592h2v1h-2zM574,592h2v1h-2zM773,592h1v1h-1zM1085,592h1v1h-1zM15,593h3v1h-3zM21,593h2v1h-2zM573,593h1v1h-1zM1084,593h1v1h-1zM9,594h3v1h-3zM135,594h2v1h-2zM1083,594h1v1h-1zM5,595h1v1h-1zM137,595h1v1h-1zM568,595h2v1h-2zM777,595h2v1h-2zM3,596h2v1h-2zM567,596h1v1h-1zM779,596h1v1h-1zM141,597h1v1h-1zM1079,597h1v1h-1zM142,598h2v1h-2zM449,598h1v1h-1zM453,598h3v1h-3zM459,598h3v1h-3zM563,598h1v1h-1zM1077,598h2v1h-2zM447,599h2v1h-2zM465,599h3v1h-3zM561,599h2v1h-2zM147,600h1v1h-1zM442,600h2v1h-2zM471,600h2v1h-2zM783,600h2v1h-2zM148,601h2v1h-2zM441,601h1v1h-1zM473,601h1v1h-1zM785,601h1v1h-1zM1073,601h1v1h-1zM437,602h1v1h-1zM477,602h3v1h-3zM556,602h2v1h-2zM1072,602h1v1h-1zM435,603h2v1h-2zM483,603h2v1h-2zM555,603h1v1h-1zM1071,603h1v1h-1zM153,604h2v1h-2zM431,604h1v1h-1zM485,604h1v1h-1zM155,605h1v1h-1zM429,605h2v1h-2zM489,605h1v1h-1zM550,605h2v1h-2zM789,605h1v1h-1zM490,606h2v1h-2zM549,606h1v1h-1zM790,606h1v1h-1zM1067,606h1v1h-1zM424,607h2v1h-2zM791,607h1v1h-1zM1065,607h2v1h-2zM159,608h2v1h-2zM423,608h1v1h-1zM495,608h3v1h-3zM543,608h3v1h-3zM161,609h1v1h-1zM418,610h2v1h-2zM501,610h3v1h-3zM537,610h3v1h-3zM795,610h1v1h-1zM1061,610h1v1h-1zM165,611h1v1h-1zM417,611h1v1h-1zM507,611h2v1h-2zM533,611h1v1h-1zM796,611h1v1h-1zM1060,611h1v1h-1zM166,612h1v1h-1zM509,612h1v1h-1zM527,612h1v1h-1zM531,612h2v1h-2zM797,612h1v1h-1zM1059,612h1v1h-1zM167,613h1v1h-1zM412,613h2v1h-2zM513,613h3v1h-3zM519,613h3v1h-3zM525,613h2v1h-2zM411,614h1v1h-1zM1055,614h1v1h-1zM171,615h2v1h-2zM801,615h1v1h-1zM1054,615h1v1h-1zM173,616h1v1h-1zM406,616h2v1h-2zM802,616h1v1h-1zM1053,616h1v1h-1zM177,617h1v1h-1zM405,617h1v1h-1zM803,617h1v1h-1zM178,618h2v1h-2zM1048,618h2v1h-2zM400,619h2v1h-2zM1047,619h1v1h-1zM183,620h3v1h-3zM399,620h1v1h-1zM807,621h1v1h-1zM1042,621h2v1h-2zM189,622h2v1h-2zM394,622h2v1h-2zM808,622h1v1h-1zM1041,622h1v1h-1zM191,623h1v1h-1zM393,623h1v1h-1zM809,623h1v1h-1zM195,624h2v1h-2zM1036,624h2v1h-2zM197,625h1v1h-1zM388,625h2v1h-2zM1035,625h1v1h-1zM201,626h3v1h-3zM387,626h1v1h-1zM207,627h2v1h-2zM813,627h2v1h-2zM1030,627h2v1h-2zM209,628h1v1h-1zM213,628h2v1h-2zM382,628h2v1h-2zM815,628h1v1h-1zM1029,628h1v1h-1zM215,629h1v1h-1zM219,629h3v1h-3zM381,629h1v1h-1zM1025,629h1v1h-1zM225,630h3v1h-3zM1023,630h2v1h-2zM231,631h3v1h-3zM375,631h3v1h-3zM819,631h1v1h-1zM1017,631h3v1h-3zM237,632h3v1h-3zM820,632h1v1h-1zM1013,632h1v1h-1zM243,633h3v1h-3zM249,633h3v1h-3zM370,633h2v1h-2zM821,633h1v1h-1zM1007,633h1v1h-1zM1011,633h2v1h-2zM255,634h2v1h-2zM369,634h1v1h-1zM999,634h3v1h-3zM1005,634h2v1h-2zM257,635h1v1h-1zM365,635h1v1h-1zM983,635h1v1h-1zM987,635h3v1h-3zM993,635h3v1h-3zM261,636h3v1h-3zM363,636h2v1h-2zM825,636h1v1h-1zM977,636h1v1h-1zM981,636h2v1h-2zM267,637h2v1h-2zM359,637h1v1h-1zM826,637h1v1h-1zM975,637h2v1h-2zM269,638h1v1h-1zM357,638h2v1h-2zM827,638h1v1h-1zM969,638h3v1h-3zM273,639h3v1h-3zM353,639h1v1h-1zM963,639h3v1h-3zM279,640h3v1h-3zM351,640h2v1h-2zM957,640h3v1h-3zM285,641h3v1h-3zM345,641h3v1h-3zM831,641h2v1h-2zM951,641h3v1h-3zM291,642h2v1h-2zM341,642h1v1h-1zM833,642h1v1h-1zM945,642h3v1h-3zM293,643h1v1h-1zM339,643h2v1h-2zM941,643h1v1h-1zM297,644h3v1h-3zM333,644h3v1h-3zM837,644h1v1h-1zM939,644h2v1h-2zM303,645h2v1h-2zM327,645h3v1h-3zM838,645h1v1h-1zM933,645h3v1h-3zM305,646h1v1h-1zM309,646h3v1h-3zM315,646h3v1h-3zM321,646h3v1h-3zM839,646h1v1h-1zM929,646h1v1h-1zM927,647h2v1h-2zM843,648h2v1h-2zM921,648h3v1h-3zM845,649h1v1h-1zM917,649h1v1h-1zM849,650h1v1h-1zM915,650h2v1h-2zM850,651h2v1h-2zM909,651h3v1h-3zM903,652h3v1h-3zM855,653h3v1h-3zM897,653h3v1h-3zM861,654h2v1h-2zM893,654h1v1h-1zM863,655h1v1h-1zM867,655h3v1h-3zM887,655h1v1h-1zM891,655h2v1h-2zM873,656h3v1h-3zM879,656h3v1h-3zM885,656h2v1h-2z" fill="#ff0000"/>
<rect x="507" y="566" width="1" height="6" fill="#ff0000"/>
</g>
<text x="7.2" y="577" font-size="10" fill="#000" textLength="147.6" lengthAdjust="spacingAndGlyphs" stroke="#000" stroke-width="0.22">MACD(12,26,9) 0.002073 0.001613</text>
<rect x="1419" y="595" width="2" height="1" fill="#000"/>
<rect x="1419" y="666" width="1" height="1" fill="#000"/>
<rect x="1419" y="565" width="1" height="1" fill="#000"/>
<text x="1422.4" y="575" font-size="10" fill="#000" textLength="37.4" lengthAdjust="spacingAndGlyphs" stroke="#000" stroke-width="0.22">0.002574</text>
<text x="1422.4" y="599" font-size="10" fill="#000" textLength="17.4" lengthAdjust="spacingAndGlyphs" stroke="#000" stroke-width="0.22">0.00</text>
<text x="1422.4" y="664" font-size="10" fill="#000" textLength="41" lengthAdjust="spacingAndGlyphs" stroke="#000" stroke-width="0.22">-0.006326</text>
<g clip-path="url(#crsi)" shape-rendering="crispEdges">
<line x1="4" y1="709.5" x2="1418" y2="709.5" stroke="#b4b4b4" stroke-width="1" stroke-dasharray="3 3"/>
<line x1="4" y1="760.5" x2="1418" y2="760.5" stroke="#b4b4b4" stroke-width="1" stroke-dasharray="3 3"/>
<path d="M554,717h10v1h-10zM551,718h3v1h-3zM564,718h1v1h-1zM1066,718h2v1h-2zM1082,718h5v1h-5zM549,719h2v1h-2zM564,719h1v1h-1zM1050,719h3v1h-3zM1063,719h3v1h-3zM1068,719h2v1h-2zM1080,719h2v1h-2zM1087,719h5v1h-5zM546,720h3v1h-3zM565,720h1v1h-1zM587,720h2v1h-2zM691,720h1v1h-1zM1047,720h3v1h-3zM1053,720h4v1h-4zM1061,720h2v1h-2zM1070,720h2v1h-2zM1078,720h2v1h-2zM1092,720h2v1h-2zM19,721h1v1h-1zM543,721h3v1h-3zM565,721h1v1h-1zM586,721h1v1h-1zM589,721h4v1h-4zM690,721h1v1h-1zM692,721h2v1h-2zM1045,721h2v1h-2zM1057,721h4v1h-4zM1072,721h2v1h-2zM1076,721h2v1h-2zM1094,721h1v1h-1zM18,722h1v1h-1zM20,722h1v1h-1zM541,722h2v1h-2zM566,722h1v1h-1zM585,722h1v1h-1zM593,722h3v1h-3zM690,722h1v1h-1zM694,722h1v1h-1zM1035,722h10v1h-10zM1074,722h2v1h-2zM1095,722h2v1h-2zM17,723h1v1h-1zM20,723h1v1h-1zM35,723h4v1h-4zM47,723h6v1h-6zM65,723h3v1h-3zM539,723h2v1h-2zM566,723h1v1h-1zM583,723h2v1h-2zM596,723h1v1h-1zM666,723h2v1h-2zM689,723h1v1h-1zM695,723h2v1h-2zM1033,723h2v1h-2zM1097,723h2v1h-2zM1103,723h6v1h-6zM16,724h1v1h-1zM21,724h1v1h-1zM34,724h1v1h-1zM39,724h8v1h-8zM53,724h4v1h-4zM61,724h4v1h-4zM68,724h1v1h-1zM411,724h2v1h-2zM537,724h2v1h-2zM567,724h1v1h-1zM582,724h1v1h-1zM596,724h1v1h-1zM651,724h2v1h-2zM663,724h3v1h-3zM668,724h2v1h-2zM688,724h1v1h-1zM697,724h2v1h-2zM1032,724h1v1h-1zM1099,724h4v1h-4zM1109,724h2v1h-2zM15,725h1v1h-1zM22,725h1v1h-1zM33,725h1v1h-1zM57,725h4v1h-4zM69,725h1v1h-1zM409,725h2v1h-2zM413,725h2v1h-2zM536,725h1v1h-1zM567,725h1v1h-1zM581,725h1v1h-1zM597,725h1v1h-1zM650,725h1v1h-1zM653,725h4v1h-4zM661,725h2v1h-2zM670,725h1v1h-1zM687,725h1v1h-1zM699,725h9v1h-9zM1031,725h1v1h-1zM1111,725h3v1h-3zM14,726h1v1h-1zM23,726h1v1h-1zM32,726h1v1h-1zM70,726h1v1h-1zM386,726h2v1h-2zM408,726h1v1h-1zM415,726h3v1h-3zM535,726h1v1h-1zM568,726h1v1h-1zM580,726h1v1h-1zM598,726h1v1h-1zM649,726h1v1h-1zM657,726h4v1h-4zM671,726h2v1h-2zM687,726h1v1h-1zM708,726h2v1h-2zM1029,726h2v1h-2zM1114,726h2v1h-2zM13,727h1v1h-1zM23,727h1v1h-1zM31,727h1v1h-1zM71,727h2v1h-2zM384,727h2v1h-2zM388,727h2v1h-2zM407,727h1v1h-1zM418,727h2v1h-2zM522,727h3v1h-3zM533,727h2v1h-2zM568,727h1v1h-1zM579,727h1v1h-1zM599,727h1v1h-1zM649,727h1v1h-1zM673,727h2v1h-2zM686,727h1v1h-1zM710,727h2v1h-2zM1028,727h1v1h-1zM12,728h1v1h-1zM24,728h1v1h-1zM31,728h1v1h-1zM73,728h1v1h-1zM382,728h2v1h-2zM390,728h1v1h-1zM405,728h2v1h-2zM420,728h1v1h-1zM520,728h2v1h-2zM525,728h4v1h-4zM532,728h1v1h-1zM569,728h1v1h-1zM577,728h2v1h-2zM599,728h1v1h-1zM648,728h1v1h-1zM675,728h2v1h-2zM685,728h1v1h-1zM712,728h2v1h-2zM1026,728h2v1h-2zM7,729h5v1h-5zM25,729h1v1h-1zM30,729h1v1h-1zM74,729h1v1h-1zM79,729h5v1h-5zM380,729h2v1h-2zM391,729h2v1h-2zM404,729h1v1h-1zM421,729h1v1h-1zM518,729h2v1h-2zM529,729h3v1h-3zM569,729h1v1h-1zM576,729h1v1h-1zM600,729h1v1h-1zM647,729h1v1h-1zM677,729h2v1h-2zM684,729h1v1h-1zM714,729h2v1h-2zM1023,729h3v1h-3zM3,730h4v1h-4zM26,730h1v1h-1zM29,730h1v1h-1zM75,730h4v1h-4zM84,730h2v1h-2zM379,730h1v1h-1zM393,730h2v1h-2zM399,730h5v1h-5zM422,730h1v1h-1zM516,730h2v1h-2zM570,730h1v1h-1zM575,730h1v1h-1zM601,730h1v1h-1zM646,730h1v1h-1zM679,730h3v1h-3zM684,730h1v1h-1zM716,730h1v1h-1zM1021,730h2v1h-2zM26,731h1v1h-1zM28,731h1v1h-1zM86,731h1v1h-1zM378,731h1v1h-1zM395,731h4v1h-4zM423,731h1v1h-1zM514,731h2v1h-2zM570,731h1v1h-1zM573,731h2v1h-2zM602,731h1v1h-1zM645,731h1v1h-1zM682,731h2v1h-2zM717,731h1v1h-1zM1019,731h2v1h-2zM27,732h1v1h-1zM87,732h2v1h-2zM377,732h1v1h-1zM424,732h1v1h-1zM512,732h2v1h-2zM571,732h2v1h-2zM602,732h1v1h-1zM607,732h6v1h-6zM645,732h1v1h-1zM718,732h1v1h-1zM1018,732h1v1h-1zM89,733h2v1h-2zM377,733h1v1h-1zM425,733h1v1h-1zM510,733h2v1h-2zM571,733h1v1h-1zM603,733h4v1h-4zM613,733h4v1h-4zM644,733h1v1h-1zM719,733h2v1h-2zM1017,733h1v1h-1zM91,734h1v1h-1zM376,734h1v1h-1zM426,734h1v1h-1zM508,734h2v1h-2zM617,734h3v1h-3zM641,734h3v1h-3zM721,734h1v1h-1zM1015,734h2v1h-2zM92,735h1v1h-1zM375,735h1v1h-1zM427,735h9v1h-9zM505,735h3v1h-3zM620,735h1v1h-1zM637,735h4v1h-4zM722,735h1v1h-1zM1014,735h1v1h-1zM93,736h1v1h-1zM374,736h1v1h-1zM436,736h1v1h-1zM501,736h4v1h-4zM621,736h1v1h-1zM635,736h2v1h-2zM723,736h2v1h-2zM1013,736h1v1h-1zM94,737h1v1h-1zM373,737h1v1h-1zM437,737h1v1h-1zM499,737h2v1h-2zM621,737h1v1h-1zM634,737h1v1h-1zM725,737h2v1h-2zM1012,737h1v1h-1zM95,738h1v1h-1zM363,738h2v1h-2zM373,738h1v1h-1zM438,738h1v1h-1zM498,738h1v1h-1zM622,738h1v1h-1zM633,738h1v1h-1zM727,738h3v1h-3zM1011,738h1v1h-1zM95,739h1v1h-1zM362,739h1v1h-1zM365,739h4v1h-4zM372,739h1v1h-1zM439,739h2v1h-2zM497,739h1v1h-1zM623,739h1v1h-1zM632,739h1v1h-1zM730,739h2v1h-2zM1010,739h1v1h-1zM96,740h1v1h-1zM361,740h1v1h-1zM369,740h3v1h-3zM441,740h1v1h-1zM496,740h1v1h-1zM624,740h1v1h-1zM631,740h1v1h-1zM732,740h2v1h-2zM1010,740h1v1h-1zM97,741h1v1h-1zM361,741h1v1h-1zM442,741h1v1h-1zM495,741h1v1h-1zM625,741h1v1h-1zM630,741h1v1h-1zM734,741h1v1h-1zM1009,741h1v1h-1zM98,742h1v1h-1zM315,742h4v1h-4zM360,742h1v1h-1zM443,742h1v1h-1zM495,742h1v1h-1zM625,742h1v1h-1zM629,742h1v1h-1zM735,742h2v1h-2zM955,742h2v1h-2zM1009,742h1v1h-1zM99,743h1v1h-1zM314,743h1v1h-1zM319,743h6v1h-6zM337,743h4v1h-4zM359,743h1v1h-1zM444,743h2v1h-2zM494,743h1v1h-1zM626,743h1v1h-1zM628,743h1v1h-1zM737,743h2v1h-2zM954,743h1v1h-1zM957,743h4v1h-4zM1008,743h1v1h-1zM100,744h1v1h-1zM313,744h1v1h-1zM325,744h4v1h-4zM333,744h4v1h-4zM341,744h4v1h-4zM358,744h1v1h-1zM446,744h2v1h-2zM493,744h1v1h-1zM627,744h1v1h-1zM739,744h1v1h-1zM922,744h2v1h-2zM954,744h1v1h-1zM961,744h4v1h-4zM1008,744h1v1h-1zM100,745h1v1h-1zM138,745h3v1h-3zM312,745h1v1h-1zM329,745h4v1h-4zM345,745h4v1h-4zM357,745h1v1h-1zM448,745h2v1h-2zM492,745h1v1h-1zM740,745h1v1h-1zM919,745h3v1h-3zM924,745h2v1h-2zM953,745h1v1h-1zM965,745h2v1h-2zM1007,745h1v1h-1zM101,746h1v1h-1zM136,746h2v1h-2zM141,746h4v1h-4zM311,746h1v1h-1zM349,746h2v1h-2zM357,746h1v1h-1zM450,746h2v1h-2zM483,746h9v1h-9zM741,746h2v1h-2zM917,746h2v1h-2zM926,746h1v1h-1zM953,746h1v1h-1zM967,746h3v1h-3zM1006,746h1v1h-1zM101,747h1v1h-1zM134,747h2v1h-2zM145,747h3v1h-3zM194,747h3v1h-3zM218,747h3v1h-3zM311,747h1v1h-1zM351,747h3v1h-3zM356,747h1v1h-1zM452,747h1v1h-1zM482,747h1v1h-1zM743,747h1v1h-1zM890,747h10v1h-10zM915,747h2v1h-2zM927,747h2v1h-2zM952,747h1v1h-1zM970,747h11v1h-11zM1006,747h1v1h-1zM102,748h1v1h-1zM132,748h2v1h-2zM148,748h1v1h-1zM192,748h2v1h-2zM197,748h2v1h-2zM215,748h3v1h-3zM221,748h2v1h-2zM310,748h1v1h-1zM354,748h2v1h-2zM453,748h1v1h-1zM481,748h1v1h-1zM744,748h1v1h-1zM867,748h1v1h-1zM887,748h3v1h-3zM900,748h2v1h-2zM913,748h2v1h-2zM929,748h2v1h-2zM952,748h1v1h-1zM981,748h4v1h-4zM1005,748h1v1h-1zM102,749h1v1h-1zM127,749h5v1h-5zM149,749h2v1h-2zM171,749h1v1h-1zM190,749h2v1h-2zM199,749h3v1h-3zM213,749h2v1h-2zM223,749h3v1h-3zM309,749h1v1h-1zM454,749h1v1h-1zM480,749h1v1h-1zM745,749h2v1h-2zM866,749h1v1h-1zM868,749h1v1h-1zM885,749h2v1h-2zM902,749h1v1h-1zM911,749h2v1h-2zM931,749h4v1h-4zM951,749h1v1h-1zM985,749h12v1h-12zM1005,749h1v1h-1zM103,750h1v1h-1zM123,750h4v1h-4zM151,750h1v1h-1zM170,750h1v1h-1zM172,750h1v1h-1zM188,750h2v1h-2zM202,750h11v1h-11zM226,750h2v1h-2zM308,750h1v1h-1zM455,750h1v1h-1zM466,750h2v1h-2zM479,750h1v1h-1zM747,750h10v1h-10zM866,750h1v1h-1zM869,750h1v1h-1zM883,750h2v1h-2zM903,750h2v1h-2zM910,750h1v1h-1zM935,750h5v1h-5zM951,750h1v1h-1zM997,750h2v1h-2zM1004,750h1v1h-1zM104,751h1v1h-1zM121,751h2v1h-2zM152,751h1v1h-1zM169,751h1v1h-1zM173,751h1v1h-1zM187,751h1v1h-1zM228,751h1v1h-1zM283,751h1v1h-1zM307,751h1v1h-1zM456,751h1v1h-1zM464,751h2v1h-2zM468,751h2v1h-2zM479,751h1v1h-1zM757,751h4v1h-4zM865,751h1v1h-1zM870,751h1v1h-1zM881,751h2v1h-2zM905,751h2v1h-2zM908,751h2v1h-2zM940,751h1v1h-1zM950,751h1v1h-1zM999,751h3v1h-3zM1004,751h1v1h-1zM104,752h1v1h-1zM119,752h2v1h-2zM153,752h2v1h-2zM167,752h2v1h-2zM174,752h1v1h-1zM185,752h2v1h-2zM229,752h1v1h-1zM281,752h2v1h-2zM284,752h1v1h-1zM305,752h2v1h-2zM457,752h1v1h-1zM462,752h2v1h-2zM470,752h1v1h-1zM478,752h1v1h-1zM761,752h4v1h-4zM835,752h2v1h-2zM864,752h1v1h-1zM871,752h2v1h-2zM879,752h2v1h-2zM907,752h1v1h-1zM941,752h1v1h-1zM950,752h1v1h-1zM1002,752h2v1h-2zM105,753h1v1h-1zM118,753h1v1h-1zM155,753h2v1h-2zM166,753h1v1h-1zM175,753h2v1h-2zM183,753h2v1h-2zM230,753h1v1h-1zM279,753h2v1h-2zM285,753h2v1h-2zM304,753h1v1h-1zM458,753h1v1h-1zM460,753h2v1h-2zM471,753h2v1h-2zM477,753h1v1h-1zM765,753h2v1h-2zM835,753h1v1h-1zM837,753h2v1h-2zM864,753h1v1h-1zM873,753h1v1h-1zM878,753h1v1h-1zM942,753h1v1h-1zM949,753h1v1h-1zM105,754h1v1h-1zM116,754h2v1h-2zM157,754h2v1h-2zM165,754h1v1h-1zM177,754h1v1h-1zM182,754h1v1h-1zM231,754h2v1h-2zM278,754h1v1h-1zM287,754h1v1h-1zM303,754h1v1h-1zM459,754h1v1h-1zM473,754h2v1h-2zM476,754h1v1h-1zM767,754h3v1h-3zM834,754h1v1h-1zM839,754h3v1h-3zM863,754h1v1h-1zM874,754h1v1h-1zM876,754h2v1h-2zM943,754h2v1h-2zM949,754h1v1h-1zM106,755h1v1h-1zM113,755h3v1h-3zM159,755h3v1h-3zM164,755h1v1h-1zM178,755h1v1h-1zM180,755h2v1h-2zM233,755h1v1h-1zM276,755h2v1h-2zM288,755h1v1h-1zM301,755h2v1h-2zM475,755h1v1h-1zM770,755h2v1h-2zM834,755h1v1h-1zM842,755h3v1h-3zM862,755h1v1h-1zM875,755h1v1h-1zM945,755h1v1h-1zM948,755h1v1h-1zM106,756h1v1h-1zM109,756h4v1h-4zM162,756h2v1h-2zM179,756h1v1h-1zM234,756h1v1h-1zM275,756h1v1h-1zM289,756h2v1h-2zM300,756h1v1h-1zM772,756h2v1h-2zM833,756h1v1h-1zM845,756h4v1h-4zM862,756h1v1h-1zM946,756h1v1h-1zM948,756h1v1h-1zM107,757h2v1h-2zM235,757h4v1h-4zM274,757h1v1h-1zM291,757h9v1h-9zM774,757h2v1h-2zM833,757h1v1h-1zM849,757h4v1h-4zM861,757h1v1h-1zM947,757h1v1h-1zM239,758h8v1h-8zM274,758h1v1h-1zM776,758h2v1h-2zM832,758h1v1h-1zM853,758h2v1h-2zM860,758h1v1h-1zM247,759h5v1h-5zM273,759h1v1h-1zM778,759h2v1h-2zM832,759h1v1h-1zM855,759h3v1h-3zM860,759h1v1h-1zM252,760h2v1h-2zM272,760h1v1h-1zM780,760h2v1h-2zM831,760h1v1h-1zM858,760h2v1h-2zM254,761h1v1h-1zM271,761h1v1h-1zM782,761h1v1h-1zM831,761h1v1h-1zM255,762h2v1h-2zM271,762h1v1h-1zM783,762h2v1h-2zM830,762h1v1h-1zM257,763h2v1h-2zM270,763h1v1h-1zM785,763h2v1h-2zM830,763h1v1h-1zM259,764h2v1h-2zM269,764h1v1h-1zM787,764h4v1h-4zM829,764h1v1h-1zM261,765h2v1h-2zM268,765h1v1h-1zM791,765h14v1h-14zM829,765h1v1h-1zM263,766h3v1h-3zM268,766h1v1h-1zM805,766h2v1h-2zM828,766h1v1h-1zM266,767h2v1h-2zM807,767h3v1h-3zM828,767h1v1h-1zM810,768h13v1h-13zM827,768h1v1h-1zM823,769h5v1h-5z" fill="#1e90ff"/>
</g>
<text x="7.4" y="682" font-size="10" fill="#000" textLength="67.4" lengthAdjust="spacingAndGlyphs" stroke="#000" stroke-width="0.22">RSI(14) 56.9875</text>
<rect x="1419" y="670" width="1" height="1" fill="#000"/>
<text x="1422" y="680" font-size="10" fill="#000" textLength="16" lengthAdjust="spacingAndGlyphs" stroke="#000" stroke-width="0.22">100</text>
<text x="1421.5" y="713.5" font-size="10" fill="#000" textLength="10.5" lengthAdjust="spacingAndGlyphs" stroke="#000" stroke-width="0.22">70</text>
<text x="1421.5" y="764.5" font-size="10" fill="#000" textLength="10.5" lengthAdjust="spacingAndGlyphs" stroke="#000" stroke-width="0.22">30</text>
<text x="1422" y="796.5" font-size="10" fill="#000" textLength="5.3" lengthAdjust="spacingAndGlyphs" stroke="#000" stroke-width="0.22">0</text>
<rect x="3" y="800" width="1" height="3" fill="#000"/>
<text x="2.5" y="812" font-size="10" fill="#000" textLength="44.7" lengthAdjust="spacingAndGlyphs" stroke="#000" stroke-width="0.22">8 Apr 2019</text>
<rect x="67" y="800" width="1" height="3" fill="#000"/>
<text x="66.5" y="812" font-size="10" fill="#000" textLength="49.9" lengthAdjust="spacingAndGlyphs" stroke="#000" stroke-width="0.22">17 Apr 2019</text>
<rect x="131" y="800" width="1" height="3" fill="#000"/>
<text x="130.5" y="812" font-size="10" fill="#000" textLength="49.9" lengthAdjust="spacingAndGlyphs" stroke="#000" stroke-width="0.22">28 Apr 2019</text>
<rect x="195" y="800" width="1" height="3" fill="#000"/>
<text x="194.5" y="812" font-size="10" fill="#000" textLength="48.3" lengthAdjust="spacingAndGlyphs" stroke="#000" stroke-width="0.22">7 May 2019</text>
<rect x="259" y="800" width="1" height="3" fill="#000"/>
<text x="258.5" y="812" font-size="10" fill="#000" textLength="53.5" lengthAdjust="spacingAndGlyphs" stroke="#000" stroke-width="0.22">16 May 2019</text>
<rect x="323" y="800" width="1" height="3" fill="#000"/>
<text x="322.5" y="812" font-size="10" fill="#000" textLength="53.5" lengthAdjust="spacingAndGlyphs" stroke="#000" stroke-width="0.22">26 May 2019</text>
<rect x="387" y="800" width="1" height="3" fill="#000"/>
<text x="386.5" y="812" font-size="10" fill="#000" textLength="45.8" lengthAdjust="spacingAndGlyphs" stroke="#000" stroke-width="0.22">4 Jun 2019</text>
<rect x="451" y="800" width="1" height="3" fill="#000"/>
<text x="450.5" y="812" font-size="10" fill="#000" textLength="50.9" lengthAdjust="spacingAndGlyphs" stroke="#000" stroke-width="0.22">13 Jun 2019</text>
<rect x="515" y="800" width="1" height="3" fill="#000"/>
<text x="514.5" y="812" font-size="10" fill="#000" textLength="50.9" lengthAdjust="spacingAndGlyphs" stroke="#000" stroke-width="0.22">23 Jun 2019</text>
<rect x="579" y="800" width="1" height="3" fill="#000"/>
<text x="578.5" y="812" font-size="10" fill="#000" textLength="42.7" lengthAdjust="spacingAndGlyphs" stroke="#000" stroke-width="0.22">2 Jul 2019</text>
<rect x="643" y="800" width="1" height="3" fill="#000"/>
<text x="642.5" y="812" font-size="10" fill="#000" textLength="47.1" lengthAdjust="spacingAndGlyphs" stroke="#000" stroke-width="0.22">11 Jul 2019</text>
<rect x="707" y="800" width="1" height="3" fill="#000"/>
<text x="706.5" y="812" font-size="10" fill="#000" textLength="47.8" lengthAdjust="spacingAndGlyphs" stroke="#000" stroke-width="0.22">21 Jul 2019</text>
<rect x="771" y="800" width="1" height="3" fill="#000"/>
<text x="770.5" y="812" font-size="10" fill="#000" textLength="47.8" lengthAdjust="spacingAndGlyphs" stroke="#000" stroke-width="0.22">30 Jul 2019</text>
<rect x="835" y="800" width="1" height="3" fill="#000"/>
<text x="834.5" y="812" font-size="10" fill="#000" textLength="46.8" lengthAdjust="spacingAndGlyphs" stroke="#000" stroke-width="0.22">8 Aug 2019</text>
<rect x="899" y="800" width="1" height="3" fill="#000"/>
<text x="898.5" y="812" font-size="10" fill="#000" textLength="52.0" lengthAdjust="spacingAndGlyphs" stroke="#000" stroke-width="0.22">18 Aug 2019</text>
<rect x="963" y="800" width="1" height="3" fill="#000"/>
<text x="962.5" y="812" font-size="10" fill="#000" textLength="52.0" lengthAdjust="spacingAndGlyphs" stroke="#000" stroke-width="0.22">27 Aug 2019</text>
<rect x="1027" y="800" width="1" height="3" fill="#000"/>
<text x="1026.5" y="812" font-size="10" fill="#000" textLength="47.3" lengthAdjust="spacingAndGlyphs" stroke="#000" stroke-width="0.22">5 Sep 2019</text>
<rect x="1091" y="800" width="1" height="3" fill="#000"/>
<text x="1090.5" y="812" font-size="10" fill="#000" textLength="52.5" lengthAdjust="spacingAndGlyphs" stroke="#000" stroke-width="0.22">15 Sep 2019</text>
<rect x="0" y="820" width="1463" height="1" fill="#e3e3e3"/>
<rect x="0" y="822" width="1463" height="1" fill="#000"/>
<rect x="0" y="823" width="1463" height="19" fill="#f0f0f0"/>
<rect x="112" y="822" width="108" height="19" fill="#000"/>
<rect x="113" y="822" width="106" height="18" fill="#fff"/>
<text x="16" y="836.5" font-size="12" fill="#6d6d6d" textLength="84" lengthAdjust="spacingAndGlyphs">EURUSD-,Daily</text>
<text x="232.5" y="836.5" font-size="12" fill="#6d6d6d" textLength="83.5" lengthAdjust="spacingAndGlyphs">USDCHF-,Daily</text>
<text x="339" y="836.5" font-size="12" fill="#6d6d6d" textLength="85.6" lengthAdjust="spacingAndGlyphs">USDCAD-,Daily</text>
<text x="448.4" y="836.5" font-size="12" fill="#6d6d6d" textLength="87.6" lengthAdjust="spacingAndGlyphs">USDCNH-,Daily</text>
<text x="559.5" y="836.5" font-size="12" fill="#6d6d6d" textLength="96.4" lengthAdjust="spacingAndGlyphs">EURCHF-,Weekly</text>
<text x="678.8" y="836.5" font-size="12" fill="#6d6d6d" textLength="86.2" lengthAdjust="spacingAndGlyphs">XAUUSD-,Daily</text>
<text x="786.8" y="836.5" font-size="12" fill="#6d6d6d" textLength="72.5" lengthAdjust="spacingAndGlyphs">GBPUSD-,H1</text>
<text x="883.5" y="836.5" font-size="12" fill="#6d6d6d" textLength="56.2" lengthAdjust="spacingAndGlyphs">UKOil-,H1</text>
<text x="962.5" y="836.5" font-size="12" fill="#6d6d6d" textLength="82.3" lengthAdjust="spacingAndGlyphs">USDX-,Weekly</text>
<text x="1067.6" y="836.5" font-size="12" fill="#6d6d6d" textLength="96" lengthAdjust="spacingAndGlyphs">EURCHF-,Weekly</text>
<text x="122.3" y="836.5" font-size="12" fill="#000" textLength="86.4" lengthAdjust="spacingAndGlyphs">AUDUSD-,Daily</text>
<rect x="328" y="826" width="1" height="11" fill="#7a7a7a"/>
<rect x="436" y="826" width="1" height="11" fill="#7a7a7a"/>
<rect x="548" y="826" width="1" height="11" fill="#7a7a7a"/>
<rect x="668" y="826" width="1" height="11" fill="#7a7a7a"/>
<rect x="777" y="826" width="1" height="11" fill="#7a7a7a"/>
<rect x="873" y="826" width="1" height="11" fill="#7a7a7a"/>
<rect x="952" y="826" width="1" height="11" fill="#7a7a7a"/>
<rect x="1057" y="826" width="1" height="11" fill="#7a7a7a"/>
<rect x="1176" y="826" width="1" height="11" fill="#7a7a7a"/>
<polygon points="1437.5,828 1437.5,834.5 1433.5,831.25" fill="#9a9a9a"/>
<polygon points="1452.5,828 1452.5,834.5 1456.5,831.25" fill="#9a9a9a"/></svg>
</body></html>
